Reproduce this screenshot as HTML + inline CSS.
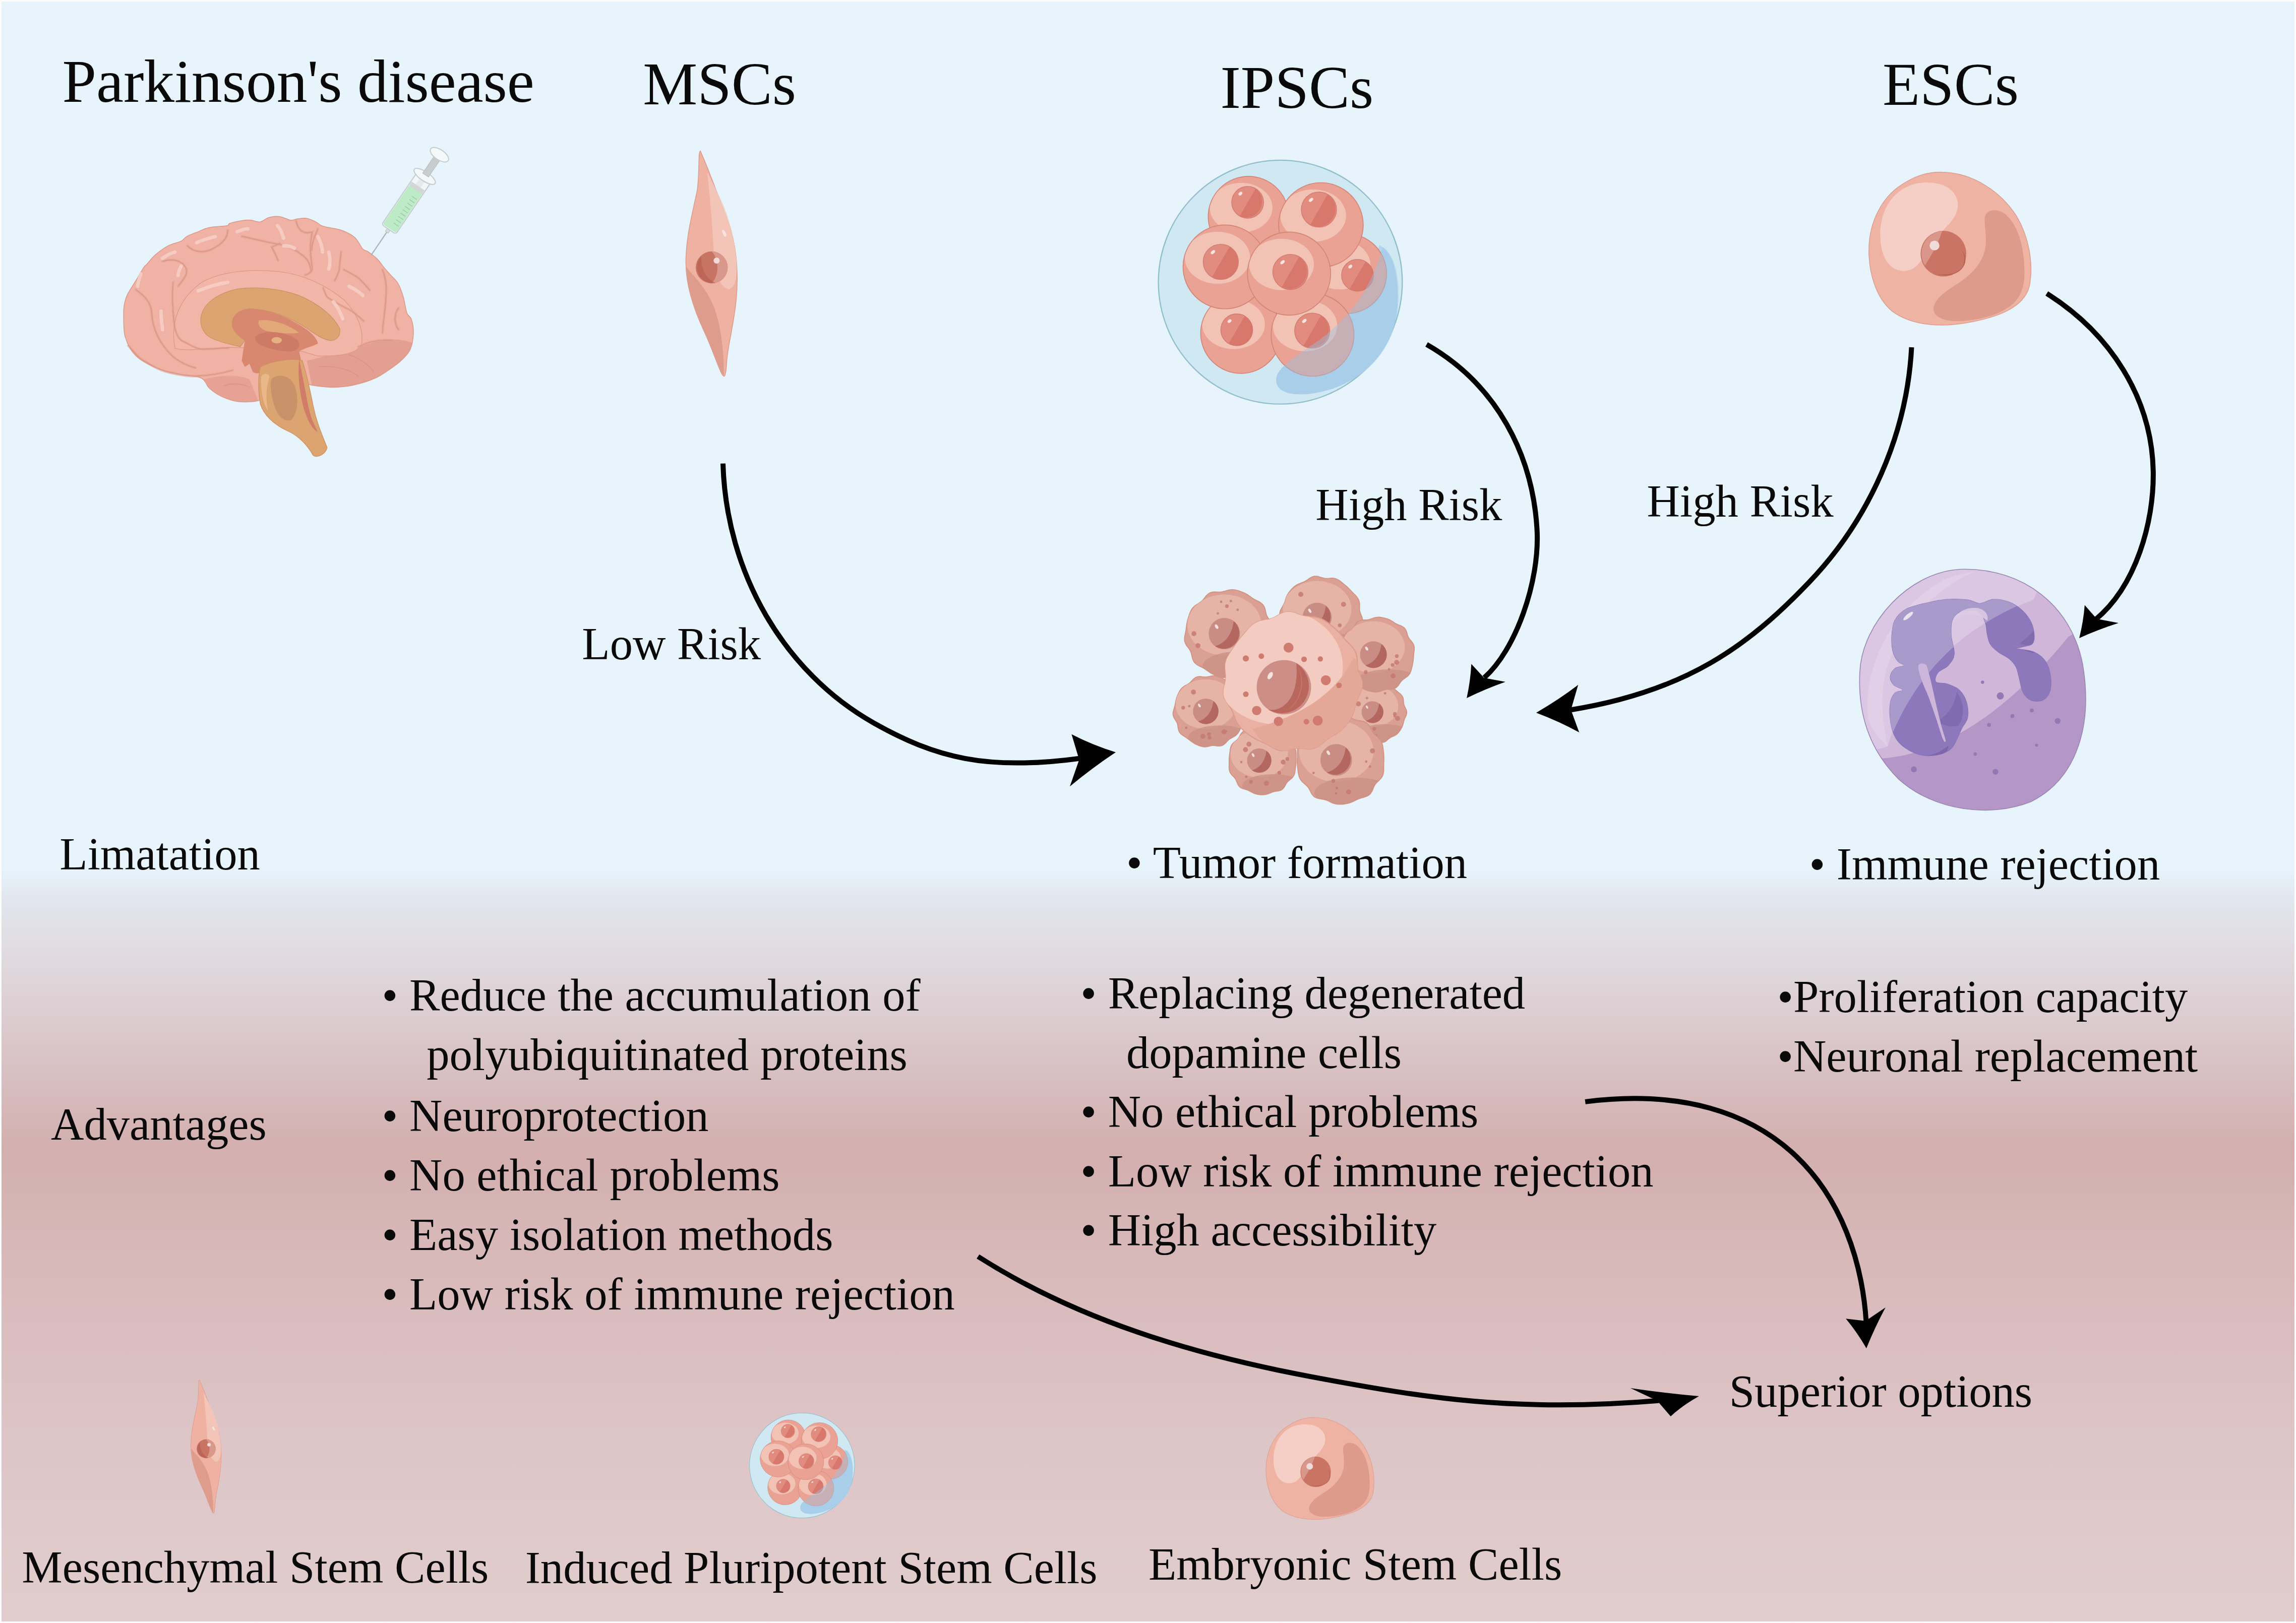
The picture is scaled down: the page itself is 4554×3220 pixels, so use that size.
<!DOCTYPE html>
<html><head><meta charset="utf-8">
<style>
html,body{margin:0;padding:0;width:4554px;height:3220px;overflow:hidden;background:#fff}
svg{display:block}
text{font-family:"Liberation Serif",serif;fill:#0a0a0a}
.t{font-size:121.5px}
.b{font-size:90.6px}
</style></head><body>
<svg width="4554" height="3220" viewBox="0 0 4554 3220">
<defs>
<linearGradient id="bg" x1="0" y1="0" x2="0" y2="1">
<stop offset="0" stop-color="#e7f4fc"/>
<stop offset="0.534" stop-color="#e7f4fc"/>
<stop offset="0.556" stop-color="#e2e5ed"/>
<stop offset="0.59" stop-color="#e0dadf"/>
<stop offset="0.625" stop-color="#dccdd1"/>
<stop offset="0.668" stop-color="#d7bdbf"/>
<stop offset="0.708" stop-color="#d3afae"/>
<stop offset="0.78" stop-color="#d8b9ba"/>
<stop offset="0.9" stop-color="#dec6c8"/>
<stop offset="1" stop-color="#e1cdcd"/>
</linearGradient>
</defs>
<rect x="0" y="0" width="4554" height="3220" fill="#fdfdfd"/>
<rect x="3" y="3" width="4548" height="3214" fill="url(#bg)"/>

<g transform="translate(230 420) scale(0.30801)">
<clipPath id="brC"><path d="M918.3,1216.6 C882.7,1225.5 825.9,1227.6 786.3,1223.2 C746.7,1218.8 711.4,1204.5 680.6,1190.2 C649.8,1175.9 623.4,1157.1 601.4,1137.3 C579.4,1117.5 581.6,1086.7 548.6,1071.3 C515.6,1055.9 451.7,1055.9 403.3,1044.9 C354.9,1033.9 304.2,1025.1 258.0,1005.3 C211.8,985.5 159.0,959.0 126.0,926.0 C93.0,893.0 72.7,851.2 59.9,807.2 C47.1,763.2 50.4,696.9 49.4,661.9 C48.4,626.9 50.2,618.2 54.0,597.5 C57.8,576.8 60.0,562.5 72.0,537.5 C84.0,512.5 108.0,477.5 126.0,447.5 C144.0,417.5 168.0,375.5 180.0,357.5 C192.0,339.5 186.0,352.5 198.0,339.5 C210.0,326.5 229.0,299.5 252.0,279.5 C275.0,259.5 308.0,234.5 336.0,219.5 C364.0,204.5 400.0,199.5 420.0,189.5 C440.0,179.5 438.0,169.5 456.0,159.5 C474.0,149.5 504.0,139.0 528.0,129.5 C552.0,120.0 569.0,109.0 600.0,102.5 C631.0,96.0 692.0,95.0 714.0,90.5 C736.0,86.0 716.0,81.0 732.0,75.5 C748.0,70.0 787.0,61.0 810.0,57.5 C833.0,54.0 850.1,53.1 869.7,54.5 C889.3,55.9 908.4,69.0 927.7,66.1 C947.0,63.2 964.4,42.9 985.7,37.1 C1007.0,31.3 1032.1,28.4 1055.3,31.3 C1078.5,34.2 1105.6,52.1 1124.9,54.5 C1144.2,56.9 1153.9,47.7 1171.3,45.8 C1188.7,43.9 1210.0,39.5 1229.3,42.9 C1248.6,46.3 1271.8,58.4 1287.3,66.1 C1302.8,73.8 1309.5,83.5 1322.1,89.3 C1334.7,95.1 1341.4,96.1 1362.7,100.9 C1384.0,105.7 1420.7,107.7 1449.7,118.3 C1478.7,128.9 1513.5,144.5 1536.7,164.7 C1559.9,184.9 1574.4,223.8 1588.9,239.3 C1603.4,254.8 1608.2,246.7 1623.7,257.5 C1639.2,268.3 1664.3,286.5 1681.7,303.9 C1699.1,321.3 1713.6,344.5 1728.1,361.9 C1742.6,379.3 1754.2,391.9 1768.7,408.3 C1783.2,424.7 1801.6,437.3 1815.1,460.5 C1828.6,483.7 1840.2,515.6 1849.9,547.5 C1859.6,579.4 1864.4,627.7 1873.1,651.9 C1881.8,676.1 1895.0,671.0 1902.1,692.5 C1909.1,714.0 1916.5,748.5 1915.4,780.8 C1914.3,813.1 1907.7,857.8 1895.6,886.4 C1883.5,915.0 1862.6,932.7 1842.8,952.5 C1823.0,972.3 1805.3,985.5 1776.7,1005.3 C1748.1,1025.1 1712.8,1052.6 1671.0,1071.3 C1629.2,1090.0 1572.0,1107.6 1525.8,1117.5 C1479.6,1127.4 1437.7,1130.7 1393.7,1130.7 C1349.7,1130.7 1302.2,1124.3 1261.6,1117.5 C1221.0,1110.7 1193.6,1081.2 1150.0,1090.0 C1106.4,1098.8 1038.6,1148.9 1000.0,1170.0 C961.4,1191.1 953.9,1207.7 918.3,1216.6Z"/></clipPath><path d="M918.3,1216.6 C882.7,1225.5 825.9,1227.6 786.3,1223.2 C746.7,1218.8 711.4,1204.5 680.6,1190.2 C649.8,1175.9 623.4,1157.1 601.4,1137.3 C579.4,1117.5 581.6,1086.7 548.6,1071.3 C515.6,1055.9 451.7,1055.9 403.3,1044.9 C354.9,1033.9 304.2,1025.1 258.0,1005.3 C211.8,985.5 159.0,959.0 126.0,926.0 C93.0,893.0 72.7,851.2 59.9,807.2 C47.1,763.2 50.4,696.9 49.4,661.9 C48.4,626.9 50.2,618.2 54.0,597.5 C57.8,576.8 60.0,562.5 72.0,537.5 C84.0,512.5 108.0,477.5 126.0,447.5 C144.0,417.5 168.0,375.5 180.0,357.5 C192.0,339.5 186.0,352.5 198.0,339.5 C210.0,326.5 229.0,299.5 252.0,279.5 C275.0,259.5 308.0,234.5 336.0,219.5 C364.0,204.5 400.0,199.5 420.0,189.5 C440.0,179.5 438.0,169.5 456.0,159.5 C474.0,149.5 504.0,139.0 528.0,129.5 C552.0,120.0 569.0,109.0 600.0,102.5 C631.0,96.0 692.0,95.0 714.0,90.5 C736.0,86.0 716.0,81.0 732.0,75.5 C748.0,70.0 787.0,61.0 810.0,57.5 C833.0,54.0 850.1,53.1 869.7,54.5 C889.3,55.9 908.4,69.0 927.7,66.1 C947.0,63.2 964.4,42.9 985.7,37.1 C1007.0,31.3 1032.1,28.4 1055.3,31.3 C1078.5,34.2 1105.6,52.1 1124.9,54.5 C1144.2,56.9 1153.9,47.7 1171.3,45.8 C1188.7,43.9 1210.0,39.5 1229.3,42.9 C1248.6,46.3 1271.8,58.4 1287.3,66.1 C1302.8,73.8 1309.5,83.5 1322.1,89.3 C1334.7,95.1 1341.4,96.1 1362.7,100.9 C1384.0,105.7 1420.7,107.7 1449.7,118.3 C1478.7,128.9 1513.5,144.5 1536.7,164.7 C1559.9,184.9 1574.4,223.8 1588.9,239.3 C1603.4,254.8 1608.2,246.7 1623.7,257.5 C1639.2,268.3 1664.3,286.5 1681.7,303.9 C1699.1,321.3 1713.6,344.5 1728.1,361.9 C1742.6,379.3 1754.2,391.9 1768.7,408.3 C1783.2,424.7 1801.6,437.3 1815.1,460.5 C1828.6,483.7 1840.2,515.6 1849.9,547.5 C1859.6,579.4 1864.4,627.7 1873.1,651.9 C1881.8,676.1 1895.0,671.0 1902.1,692.5 C1909.1,714.0 1916.5,748.5 1915.4,780.8 C1914.3,813.1 1907.7,857.8 1895.6,886.4 C1883.5,915.0 1862.6,932.7 1842.8,952.5 C1823.0,972.3 1805.3,985.5 1776.7,1005.3 C1748.1,1025.1 1712.8,1052.6 1671.0,1071.3 C1629.2,1090.0 1572.0,1107.6 1525.8,1117.5 C1479.6,1127.4 1437.7,1130.7 1393.7,1130.7 C1349.7,1130.7 1302.2,1124.3 1261.6,1117.5 C1221.0,1110.7 1193.6,1081.2 1150.0,1090.0 C1106.4,1098.8 1038.6,1148.9 1000.0,1170.0 C961.4,1191.1 953.9,1207.7 918.3,1216.6Z" fill="#f0b2a4"/><g clip-path="url(#brC)"><path d="M1230,960 C1400,920 1560,870 1700,830 C1800,810 1880,830 1950,860 L1950,1300 L1300,1300 C1260,1100 1240,1020 1230,960 Z" fill="#e39f91"/><path d="M560,1080 C650,1060 760,1040 860,1080 L950,1300 L500,1300 L540,1150 Z" fill="#e6a294"/></g><path d="M918.3,1216.6 C882.7,1225.5 825.9,1227.6 786.3,1223.2 C746.7,1218.8 711.4,1204.5 680.6,1190.2 C649.8,1175.9 623.4,1157.1 601.4,1137.3 C579.4,1117.5 581.6,1086.7 548.6,1071.3 C515.6,1055.9 451.7,1055.9 403.3,1044.9 C354.9,1033.9 304.2,1025.1 258.0,1005.3 C211.8,985.5 159.0,959.0 126.0,926.0 C93.0,893.0 72.7,851.2 59.9,807.2 C47.1,763.2 50.4,696.9 49.4,661.9 C48.4,626.9 50.2,618.2 54.0,597.5 C57.8,576.8 60.0,562.5 72.0,537.5 C84.0,512.5 108.0,477.5 126.0,447.5 C144.0,417.5 168.0,375.5 180.0,357.5 C192.0,339.5 186.0,352.5 198.0,339.5 C210.0,326.5 229.0,299.5 252.0,279.5 C275.0,259.5 308.0,234.5 336.0,219.5 C364.0,204.5 400.0,199.5 420.0,189.5 C440.0,179.5 438.0,169.5 456.0,159.5 C474.0,149.5 504.0,139.0 528.0,129.5 C552.0,120.0 569.0,109.0 600.0,102.5 C631.0,96.0 692.0,95.0 714.0,90.5 C736.0,86.0 716.0,81.0 732.0,75.5 C748.0,70.0 787.0,61.0 810.0,57.5 C833.0,54.0 850.1,53.1 869.7,54.5 C889.3,55.9 908.4,69.0 927.7,66.1 C947.0,63.2 964.4,42.9 985.7,37.1 C1007.0,31.3 1032.1,28.4 1055.3,31.3 C1078.5,34.2 1105.6,52.1 1124.9,54.5 C1144.2,56.9 1153.9,47.7 1171.3,45.8 C1188.7,43.9 1210.0,39.5 1229.3,42.9 C1248.6,46.3 1271.8,58.4 1287.3,66.1 C1302.8,73.8 1309.5,83.5 1322.1,89.3 C1334.7,95.1 1341.4,96.1 1362.7,100.9 C1384.0,105.7 1420.7,107.7 1449.7,118.3 C1478.7,128.9 1513.5,144.5 1536.7,164.7 C1559.9,184.9 1574.4,223.8 1588.9,239.3 C1603.4,254.8 1608.2,246.7 1623.7,257.5 C1639.2,268.3 1664.3,286.5 1681.7,303.9 C1699.1,321.3 1713.6,344.5 1728.1,361.9 C1742.6,379.3 1754.2,391.9 1768.7,408.3 C1783.2,424.7 1801.6,437.3 1815.1,460.5 C1828.6,483.7 1840.2,515.6 1849.9,547.5 C1859.6,579.4 1864.4,627.7 1873.1,651.9 C1881.8,676.1 1895.0,671.0 1902.1,692.5 C1909.1,714.0 1916.5,748.5 1915.4,780.8 C1914.3,813.1 1907.7,857.8 1895.6,886.4 C1883.5,915.0 1862.6,932.7 1842.8,952.5 C1823.0,972.3 1805.3,985.5 1776.7,1005.3 C1748.1,1025.1 1712.8,1052.6 1671.0,1071.3 C1629.2,1090.0 1572.0,1107.6 1525.8,1117.5 C1479.6,1127.4 1437.7,1130.7 1393.7,1130.7 C1349.7,1130.7 1302.2,1124.3 1261.6,1117.5 C1221.0,1110.7 1193.6,1081.2 1150.0,1090.0 C1106.4,1098.8 1038.6,1148.9 1000.0,1170.0 C961.4,1191.1 953.9,1207.7 918.3,1216.6Z" fill="none" stroke="#dc9888" stroke-width="5"/>


<path d="M380,880 C350,720 400,560 560,450 C700,380 880,370 1040,385 C1200,400 1350,470 1470,570 C1550,650 1600,760 1580,860 C1540,920 1440,930 1300,930 L1200,900 C1000,900 800,860 640,880 C540,880 460,900 380,880 Z" fill="#f2b6a8" stroke="#db9686" stroke-width="4"/>
<path d="M545,700 C550,600 640,530 780,498 C900,480 1060,495 1180,540 C1300,590 1400,670 1440,750 C1450,800 1420,830 1380,830 C1320,820 1270,780 1220,745 C1120,680 990,630 860,625 C790,630 750,670 748,720 C748,770 790,800 830,830 L800,870 C720,850 620,830 580,790 C555,760 545,730 545,700 Z" fill="#dca470" stroke="#cf9060" stroke-width="4"/>
<path d="M748,720 C752,660 800,628 870,625 C1000,630 1130,690 1230,760 C1280,800 1300,830 1300,850 C1260,870 1210,880 1180,900 L1200,1000 C1150,1000 1100,990 1060,1000 L980,1020 C940,1040 900,1050 880,1030 L860,980 L830,1000 L810,960 L830,830 C790,800 750,770 748,720 Z" fill="#d98870"/>
<path d="M920,700 C1000,690 1100,720 1180,780 C1120,790 1040,780 980,770 C930,760 910,730 920,700 Z" fill="#e2a878"/>
<path d="M900,800 C960,760 1080,770 1160,820 C1200,850 1180,900 1120,900 C1050,900 980,880 930,860 C900,840 890,820 900,800 Z" fill="#cd7a66"/>
<ellipse cx="1035" cy="828" rx="34" ry="20" fill="#e6b080"/>
<path d="M930,1000 C1000,960 1150,940 1200,960 C1230,1050 1250,1150 1270,1250 C1290,1350 1320,1420 1360,1520 C1350,1560 1300,1590 1270,1570 C1230,1500 1170,1440 1100,1410 C1000,1360 950,1300 930,1240 C915,1160 915,1060 930,1000 Z" fill="#dca470" stroke="#cf9060" stroke-width="4"/>
<path d="M1000,1080 C1040,1040 1120,1050 1150,1120 C1180,1200 1170,1300 1130,1340 C1090,1360 1040,1320 1020,1250 C1000,1180 990,1120 1000,1080 Z" fill="#c99268"/>
<path d="M1180,950 C1200,1050 1220,1160 1240,1260 C1255,1330 1280,1380 1300,1420 C1260,1400 1220,1320 1200,1230 C1180,1140 1170,1040 1180,950 Z" fill="#d07c68"/>
<path d="M935,1060 C950,1040 980,1040 990,1060 C970,1120 960,1200 980,1280 C950,1250 930,1150 935,1060 Z" fill="#e8b888"/>
<g fill="none" stroke="#e39f91" stroke-width="16" stroke-linecap="round" opacity="0.55"><path d="M128,502 C180,540 225,580 230,650 C235,760 280,850 368,935 C420,975 470,995 512,1006"/>
<path d="M368,455 C362,520 360,600 378,742 C390,800 410,830 440,838 C480,860 520,885 560,886 C620,885 680,880 728,877"/>
<path d="M80,862 C120,910 150,945 176,958 C230,990 270,1015 320,1030 C400,1050 460,1060 512,1059 C600,1055 690,1040 752,1021"/>
<path d="M300,320 C360,300 420,310 450,360 C470,400 430,440 400,480"/>
<path d="M460,220 C500,260 560,270 620,240 C680,210 720,170 720,120"/>
<path d="M811,159 C870,170 927,188 1055,211 C1120,225 1160,246 1200,280 C1240,310 1250,340 1258,385"/>
<path d="M1055,205 C1030,215 1010,225 1003,228 C1020,260 1035,290 1044,315"/>
<path d="M1160,60 C1170,110 1200,150 1264,130 C1255,180 1250,220 1252,257 C1255,300 1262,340 1264,373 C1250,395 1235,405 1218,408"/>
<path d="M1300,110 C1280,160 1260,200 1260,250"/>
<path d="M1450,257 C1445,300 1440,340 1438,373 C1430,400 1420,425 1409,443"/>
<path d="M1467,373 C1500,390 1540,410 1566,431 C1590,455 1615,480 1635,507"/>
<path d="M1716,373 C1730,410 1740,450 1740,490 C1740,560 1735,610 1728,663 C1722,710 1718,745 1716,780"/>
<path d="M1334,490 C1340,510 1350,530 1357,547 C1400,580 1460,610 1508,634 C1540,655 1570,680 1595,704"/>
<path d="M1820,620 C1790,660 1790,720 1820,760"/>
<path d="M1560,870 C1620,840 1700,820 1780,830"/>
<path d="M1300,1000 C1400,990 1500,1010 1560,1060"/>
<path d="M1500,920 C1560,940 1620,980 1660,1030"/>
<path d="M700,1120 C760,1100 820,1110 860,1130"/></g>
<g fill="none" stroke="#d89282" stroke-width="4" stroke-linecap="round"><path d="M128,502 C180,540 225,580 230,650 C235,760 280,850 368,935 C420,975 470,995 512,1006"/>
<path d="M368,455 C362,520 360,600 378,742 C390,800 410,830 440,838 C480,860 520,885 560,886 C620,885 680,880 728,877"/>
<path d="M80,862 C120,910 150,945 176,958 C230,990 270,1015 320,1030 C400,1050 460,1060 512,1059 C600,1055 690,1040 752,1021"/>
<path d="M300,320 C360,300 420,310 450,360 C470,400 430,440 400,480"/>
<path d="M460,220 C500,260 560,270 620,240 C680,210 720,170 720,120"/>
<path d="M811,159 C870,170 927,188 1055,211 C1120,225 1160,246 1200,280 C1240,310 1250,340 1258,385"/>
<path d="M1055,205 C1030,215 1010,225 1003,228 C1020,260 1035,290 1044,315"/>
<path d="M1160,60 C1170,110 1200,150 1264,130 C1255,180 1250,220 1252,257 C1255,300 1262,340 1264,373 C1250,395 1235,405 1218,408"/>
<path d="M1300,110 C1280,160 1260,200 1260,250"/>
<path d="M1450,257 C1445,300 1440,340 1438,373 C1430,400 1420,425 1409,443"/>
<path d="M1467,373 C1500,390 1540,410 1566,431 C1590,455 1615,480 1635,507"/>
<path d="M1716,373 C1730,410 1740,450 1740,490 C1740,560 1735,610 1728,663 C1722,710 1718,745 1716,780"/>
<path d="M1334,490 C1340,510 1350,530 1357,547 C1400,580 1460,610 1508,634 C1540,655 1570,680 1595,704"/>
<path d="M1820,620 C1790,660 1790,720 1820,760"/>
<path d="M1560,870 C1620,840 1700,820 1780,830"/>
<path d="M1300,1000 C1400,990 1500,1010 1560,1060"/>
<path d="M1500,920 C1560,940 1620,980 1660,1030"/>
<path d="M700,1120 C760,1100 820,1110 860,1130"/></g>
<g stroke="#f7cfc6" stroke-width="22" stroke-linecap="round" fill="none" opacity="0.9">
<path d="M520,200 C560,180 600,170 640,160"/>
<path d="M780,130 C800,120 830,110 850,110"/>
<path d="M1040,90 C1060,110 1070,140 1080,170"/>
<path d="M1300,160 C1320,200 1330,230 1330,260"/>
<path d="M1370,260 C1380,300 1380,340 1370,370"/>
<path d="M300,300 C330,280 360,265 380,260"/>
<path d="M420,350 C410,370 400,390 400,410"/>
<path d="M160,400 C150,430 140,460 140,480"/>
<path d="M290,640 C290,680 295,720 300,760"/>
<path d="M530,510 C600,480 660,465 720,455"/>
<path d="M1080,220 C1110,220 1130,225 1150,235"/>
<path d="M1500,480 C1540,500 1570,520 1590,540"/>
<path d="M1400,580 C1430,620 1450,660 1460,690"/>
<path d="M1090,1080" />
</g>
</g>

<g transform="translate(771 455) rotate(34.2)">
<line x1="0" y1="0" x2="0" y2="62" stroke="#a9b3b7" stroke-width="2.2"/>
<rect x="-3.5" y="-2" width="7" height="9" fill="#d5dcde" stroke="#b9c2c4" stroke-width="1"/>
<rect x="-17" y="-124" width="34" height="124" rx="5" fill="#f1f6f6" stroke="#c3cbcc" stroke-width="2"/>
<rect x="-15.5" y="-96" width="31" height="94" rx="4" fill="#bdeac7"/>
<rect x="-15.5" y="-104" width="31" height="9" fill="#d3d6d6"/>
<g stroke="#9fcda9" stroke-width="1.6">
<line x1="1" y1="-16" x2="13" y2="-16"/><line x1="1" y1="-24" x2="13" y2="-24"/><line x1="1" y1="-32" x2="13" y2="-32"/><line x1="1" y1="-40" x2="13" y2="-40"/><line x1="1" y1="-48" x2="13" y2="-48"/><line x1="1" y1="-56" x2="13" y2="-56"/><line x1="1" y1="-64" x2="13" y2="-64"/><line x1="1" y1="-72" x2="13" y2="-72"/><line x1="1" y1="-80" x2="13" y2="-80"/>
</g>
<rect x="-6" y="-122" width="12" height="18" fill="#e6eaea"/>
<ellipse cx="0" cy="-127" rx="25" ry="9" fill="#f5f8f8" stroke="#c3cbcc" stroke-width="2"/>
<rect x="-7" y="-176" width="14" height="46" fill="#c9cccc" stroke="#b5babb" stroke-width="1"/>
<ellipse cx="0" cy="-179" rx="21" ry="10" fill="#f5f8f8" stroke="#c3cbcc" stroke-width="2"/>
</g>

<g transform="translate(1300.00 280.00) scale(0.30189)">
<path d="M295,65 C340,160 420,380 480,540 C540,700 545,900 530,1050 C515,1200 480,1330 470,1430 C465,1500 462,1545 450,1545 C430,1545 390,1400 320,1250 C250,1100 200,950 200,800 C200,620 250,450 275,320 C290,220 280,65 295,65 Z" fill="#eeb1a2" stroke="#dc9c8c" stroke-width="5"/>
<path d="M205,830 C260,900 330,960 380,1080 C430,1200 450,1380 450,1540 C430,1530 390,1400 320,1250 C250,1100 205,950 205,830 Z" fill="#de9c8c"/>
<path d="M340,200 C360,380 375,560 385,760 C392,880 420,950 480,975 C525,960 538,900 534,800 C525,660 490,530 450,430 C410,330 360,250 340,200 Z" fill="#f4cbbf" opacity="0.8"/>
<circle cx="370" cy="830" r="105" fill="#c87464"/>
<path d="M370,725 A105,105 0 0 1 370,935 C420,880 420,780 370,725 Z" fill="#d9988c"/>
<path d="M300,760 A105,105 0 0 0 395,933 C330,900 300,840 300,760 Z" fill="#b86050" opacity="0.7"/>
<circle cx="402" cy="785" r="20" fill="#f3dcd8"/>
<ellipse cx="452" cy="605" rx="10" ry="26" transform="rotate(-25 452 605)" fill="#fae2dc"/>
</g>
<g transform="translate(342.80 2726.00) scale(0.17866)">
<path d="M295,65 C340,160 420,380 480,540 C540,700 545,900 530,1050 C515,1200 480,1330 470,1430 C465,1500 462,1545 450,1545 C430,1545 390,1400 320,1250 C250,1100 200,950 200,800 C200,620 250,450 275,320 C290,220 280,65 295,65 Z" fill="#eeb1a2" stroke="#dc9c8c" stroke-width="5"/>
<path d="M205,830 C260,900 330,960 380,1080 C430,1200 450,1380 450,1540 C430,1530 390,1400 320,1250 C250,1100 205,950 205,830 Z" fill="#de9c8c"/>
<path d="M340,200 C360,380 375,560 385,760 C392,880 420,950 480,975 C525,960 538,900 534,800 C525,660 490,530 450,430 C410,330 360,250 340,200 Z" fill="#f4cbbf" opacity="0.8"/>
<circle cx="370" cy="830" r="105" fill="#c87464"/>
<path d="M370,725 A105,105 0 0 1 370,935 C420,880 420,780 370,725 Z" fill="#d9988c"/>
<path d="M300,760 A105,105 0 0 0 395,933 C330,900 300,840 300,760 Z" fill="#b86050" opacity="0.7"/>
<circle cx="402" cy="785" r="20" fill="#f3dcd8"/>
<ellipse cx="452" cy="605" rx="10" ry="26" transform="rotate(-25 452 605)" fill="#fae2dc"/>
</g>
<g transform="translate(2270.00 290.00) scale(0.33271)"><circle cx="810" cy="811" r="727" fill="#d0e8f2" stroke="#8fbfcb" stroke-width="7"/><path d="M1400,590 C1500,640 1520,820 1505,980 C1480,1220 1300,1430 1000,1475 C880,1490 790,1470 785,1400 C780,1320 900,1260 1050,1150 C1250,1000 1350,800 1400,590 Z" fill="#b3d6ee"/><clipPath id="ipA_c0"><circle cx="620" cy="420" r="240"/></clipPath><circle cx="620" cy="420" r="240" fill="#e9a293"/><g clip-path="url(#ipA_c0)"><ellipse cx="576" cy="367" rx="187" ry="148" fill="#f2c2b5"/><path d="M620,420 C620,420 620,420 620,420" fill="none"/></g><circle cx="620" cy="420" r="240" fill="none" stroke="#d48474" stroke-width="5"/><circle cx="615" cy="335" r="95" fill="#e28c80" stroke="#d07a6e" stroke-width="4"/><path d="M662,253 A95,95 0 0 1 568,417 Z" fill="#d8786c"/><ellipse cx="572" cy="283" rx="13" ry="9" fill="#fbe3de" transform="rotate(-40 572 283)"/><clipPath id="ipA_c1"><circle cx="1205" cy="760" r="238"/></clipPath><circle cx="1205" cy="760" r="238" fill="#e9a293"/><g clip-path="url(#ipA_c1)"><ellipse cx="1162" cy="707" rx="185" ry="147" fill="#f2c2b5"/><path d="M1205,760 C1205,760 1205,760 1205,760" fill="none"/></g><circle cx="1205" cy="760" r="238" fill="none" stroke="#d48474" stroke-width="5"/><circle cx="1270" cy="770" r="95" fill="#e28c80" stroke="#d07a6e" stroke-width="4"/><path d="M1318,688 A95,95 0 0 1 1222,852 Z" fill="#d8786c"/><ellipse cx="1227" cy="718" rx="13" ry="9" fill="#fbe3de" transform="rotate(-40 1227 718)"/><clipPath id="ipA_c2"><circle cx="1052" cy="470" r="252"/></clipPath><circle cx="1052" cy="470" r="252" fill="#e9a293"/><g clip-path="url(#ipA_c2)"><ellipse cx="1006" cy="414" rx="196" ry="156" fill="#f2c2b5"/><path d="M1052,470 C1052,470 1052,470 1052,470" fill="none"/></g><circle cx="1052" cy="470" r="252" fill="none" stroke="#d48474" stroke-width="5"/><circle cx="1040" cy="378" r="105" fill="#e28c80" stroke="#d07a6e" stroke-width="4"/><path d="M1092,287 A105,105 0 0 1 988,469 Z" fill="#d8786c"/><ellipse cx="993" cy="320" rx="15" ry="9" fill="#fbe3de" transform="rotate(-40 993 320)"/><clipPath id="ipA_c3"><circle cx="575" cy="1115" r="240"/></clipPath><circle cx="575" cy="1115" r="240" fill="#e9a293"/><g clip-path="url(#ipA_c3)"><ellipse cx="531" cy="1062" rx="187" ry="148" fill="#f2c2b5"/><path d="M575,1115 C575,1115 575,1115 575,1115" fill="none"/></g><circle cx="575" cy="1115" r="240" fill="none" stroke="#d48474" stroke-width="5"/><circle cx="550" cy="1095" r="95" fill="#e28c80" stroke="#d07a6e" stroke-width="4"/><path d="M598,1013 A95,95 0 0 1 502,1177 Z" fill="#d8786c"/><ellipse cx="507" cy="1043" rx="13" ry="9" fill="#fbe3de" transform="rotate(-40 507 1043)"/><clipPath id="ipA_c4"><circle cx="1002" cy="1125" r="247"/></clipPath><circle cx="1002" cy="1125" r="247" fill="#e9a293"/><g clip-path="url(#ipA_c4)"><ellipse cx="957" cy="1070" rx="192" ry="153" fill="#f2c2b5"/><path d="M1002,1125 C1002,1125 1002,1125 1002,1125" fill="none"/></g><circle cx="1002" cy="1125" r="247" fill="none" stroke="#d48474" stroke-width="5"/><circle cx="1000" cy="1100" r="105" fill="#e28c80" stroke="#d07a6e" stroke-width="4"/><path d="M1052,1009 A105,105 0 0 1 948,1191 Z" fill="#d8786c"/><ellipse cx="953" cy="1042" rx="15" ry="9" fill="#fbe3de" transform="rotate(-40 953 1042)"/><clipPath id="ipA_c5"><circle cx="480" cy="720" r="250"/></clipPath><circle cx="480" cy="720" r="250" fill="#e9a293"/><g clip-path="url(#ipA_c5)"><ellipse cx="435" cy="665" rx="195" ry="155" fill="#f2c2b5"/><path d="M480,720 C480,720 480,720 480,720" fill="none"/></g><circle cx="480" cy="720" r="250" fill="none" stroke="#d48474" stroke-width="5"/><circle cx="455" cy="690" r="105" fill="#e28c80" stroke="#d07a6e" stroke-width="4"/><path d="M508,599 A105,105 0 0 1 402,781 Z" fill="#d8786c"/><ellipse cx="408" cy="632" rx="15" ry="9" fill="#fbe3de" transform="rotate(-40 408 632)"/><clipPath id="ipA_c6"><circle cx="862" cy="760" r="248"/></clipPath><circle cx="862" cy="760" r="248" fill="#e9a293"/><g clip-path="url(#ipA_c6)"><ellipse cx="817" cy="705" rx="193" ry="153" fill="#f2c2b5"/><path d="M862,760 C862,760 862,760 862,760" fill="none"/></g><circle cx="862" cy="760" r="248" fill="none" stroke="#d48474" stroke-width="5"/><circle cx="870" cy="750" r="105" fill="#e28c80" stroke="#d07a6e" stroke-width="4"/><path d="M922,659 A105,105 0 0 1 818,841 Z" fill="#d8786c"/><ellipse cx="823" cy="692" rx="15" ry="9" fill="#fbe3de" transform="rotate(-40 823 692)"/><path d="M1420,600 C1510,660 1525,840 1508,990 C1480,1220 1300,1430 1000,1475 C880,1490 790,1470 785,1400 C780,1320 900,1260 1050,1150 C1250,1000 1360,820 1420,600 Z" fill="#98c4e4" opacity="0.42"/></g>
<g transform="translate(1474.70 2791.20) scale(0.14340)"><circle cx="810" cy="811" r="727" fill="#d0e8f2" stroke="#8fbfcb" stroke-width="7"/><path d="M1400,590 C1500,640 1520,820 1505,980 C1480,1220 1300,1430 1000,1475 C880,1490 790,1470 785,1400 C780,1320 900,1260 1050,1150 C1250,1000 1350,800 1400,590 Z" fill="#b3d6ee"/><clipPath id="ipB_c0"><circle cx="620" cy="420" r="240"/></clipPath><circle cx="620" cy="420" r="240" fill="#e9a293"/><g clip-path="url(#ipB_c0)"><ellipse cx="576" cy="367" rx="187" ry="148" fill="#f2c2b5"/><path d="M620,420 C620,420 620,420 620,420" fill="none"/></g><circle cx="620" cy="420" r="240" fill="none" stroke="#d48474" stroke-width="5"/><circle cx="615" cy="335" r="95" fill="#e28c80" stroke="#d07a6e" stroke-width="4"/><path d="M662,253 A95,95 0 0 1 568,417 Z" fill="#d8786c"/><ellipse cx="572" cy="283" rx="13" ry="9" fill="#fbe3de" transform="rotate(-40 572 283)"/><clipPath id="ipB_c1"><circle cx="1205" cy="760" r="238"/></clipPath><circle cx="1205" cy="760" r="238" fill="#e9a293"/><g clip-path="url(#ipB_c1)"><ellipse cx="1162" cy="707" rx="185" ry="147" fill="#f2c2b5"/><path d="M1205,760 C1205,760 1205,760 1205,760" fill="none"/></g><circle cx="1205" cy="760" r="238" fill="none" stroke="#d48474" stroke-width="5"/><circle cx="1270" cy="770" r="95" fill="#e28c80" stroke="#d07a6e" stroke-width="4"/><path d="M1318,688 A95,95 0 0 1 1222,852 Z" fill="#d8786c"/><ellipse cx="1227" cy="718" rx="13" ry="9" fill="#fbe3de" transform="rotate(-40 1227 718)"/><clipPath id="ipB_c2"><circle cx="1052" cy="470" r="252"/></clipPath><circle cx="1052" cy="470" r="252" fill="#e9a293"/><g clip-path="url(#ipB_c2)"><ellipse cx="1006" cy="414" rx="196" ry="156" fill="#f2c2b5"/><path d="M1052,470 C1052,470 1052,470 1052,470" fill="none"/></g><circle cx="1052" cy="470" r="252" fill="none" stroke="#d48474" stroke-width="5"/><circle cx="1040" cy="378" r="105" fill="#e28c80" stroke="#d07a6e" stroke-width="4"/><path d="M1092,287 A105,105 0 0 1 988,469 Z" fill="#d8786c"/><ellipse cx="993" cy="320" rx="15" ry="9" fill="#fbe3de" transform="rotate(-40 993 320)"/><clipPath id="ipB_c3"><circle cx="575" cy="1115" r="240"/></clipPath><circle cx="575" cy="1115" r="240" fill="#e9a293"/><g clip-path="url(#ipB_c3)"><ellipse cx="531" cy="1062" rx="187" ry="148" fill="#f2c2b5"/><path d="M575,1115 C575,1115 575,1115 575,1115" fill="none"/></g><circle cx="575" cy="1115" r="240" fill="none" stroke="#d48474" stroke-width="5"/><circle cx="550" cy="1095" r="95" fill="#e28c80" stroke="#d07a6e" stroke-width="4"/><path d="M598,1013 A95,95 0 0 1 502,1177 Z" fill="#d8786c"/><ellipse cx="507" cy="1043" rx="13" ry="9" fill="#fbe3de" transform="rotate(-40 507 1043)"/><clipPath id="ipB_c4"><circle cx="1002" cy="1125" r="247"/></clipPath><circle cx="1002" cy="1125" r="247" fill="#e9a293"/><g clip-path="url(#ipB_c4)"><ellipse cx="957" cy="1070" rx="192" ry="153" fill="#f2c2b5"/><path d="M1002,1125 C1002,1125 1002,1125 1002,1125" fill="none"/></g><circle cx="1002" cy="1125" r="247" fill="none" stroke="#d48474" stroke-width="5"/><circle cx="1000" cy="1100" r="105" fill="#e28c80" stroke="#d07a6e" stroke-width="4"/><path d="M1052,1009 A105,105 0 0 1 948,1191 Z" fill="#d8786c"/><ellipse cx="953" cy="1042" rx="15" ry="9" fill="#fbe3de" transform="rotate(-40 953 1042)"/><clipPath id="ipB_c5"><circle cx="480" cy="720" r="250"/></clipPath><circle cx="480" cy="720" r="250" fill="#e9a293"/><g clip-path="url(#ipB_c5)"><ellipse cx="435" cy="665" rx="195" ry="155" fill="#f2c2b5"/><path d="M480,720 C480,720 480,720 480,720" fill="none"/></g><circle cx="480" cy="720" r="250" fill="none" stroke="#d48474" stroke-width="5"/><circle cx="455" cy="690" r="105" fill="#e28c80" stroke="#d07a6e" stroke-width="4"/><path d="M508,599 A105,105 0 0 1 402,781 Z" fill="#d8786c"/><ellipse cx="408" cy="632" rx="15" ry="9" fill="#fbe3de" transform="rotate(-40 408 632)"/><clipPath id="ipB_c6"><circle cx="862" cy="760" r="248"/></clipPath><circle cx="862" cy="760" r="248" fill="#e9a293"/><g clip-path="url(#ipB_c6)"><ellipse cx="817" cy="705" rx="193" ry="153" fill="#f2c2b5"/><path d="M862,760 C862,760 862,760 862,760" fill="none"/></g><circle cx="862" cy="760" r="248" fill="none" stroke="#d48474" stroke-width="5"/><circle cx="870" cy="750" r="105" fill="#e28c80" stroke="#d07a6e" stroke-width="4"/><path d="M922,659 A105,105 0 0 1 818,841 Z" fill="#d8786c"/><ellipse cx="823" cy="692" rx="15" ry="9" fill="#fbe3de" transform="rotate(-40 823 692)"/><path d="M1420,600 C1510,660 1525,840 1508,990 C1480,1220 1300,1430 1000,1475 C880,1490 790,1470 785,1400 C780,1320 900,1260 1050,1150 C1250,1000 1360,820 1420,600 Z" fill="#98c4e4" opacity="0.42"/></g>
<g transform="translate(3680.00 320.00) scale(0.21566)">
<path d="M780,100 C1100,100 1350,300 1480,500 C1600,700 1640,950 1600,1150 C1550,1350 1300,1440 1000,1490 C750,1530 500,1500 340,1380 C180,1250 120,1000 125,800 C130,550 250,330 420,220 C540,140 650,100 780,100 Z" fill="#efb3a4" stroke="#dc9e90" stroke-width="7"/>
<path d="M230,700 C220,400 400,200 650,195 C850,190 960,300 940,430 C920,560 780,640 700,750 C630,850 600,980 480,1005 C330,1030 235,900 230,700 Z" fill="#f5cfc6"/>
<path d="M1190,520 C1200,440 1300,430 1370,480 C1500,580 1560,800 1555,1050 C1550,1250 1450,1350 1250,1420 C1050,1480 800,1500 730,1400 C680,1300 820,1200 950,1120 C1100,1020 1190,900 1200,760 C1205,650 1185,580 1190,520 Z" fill="#dc9b8b"/>
<circle cx="810" cy="850" r="210" fill="#c97464"/>
<path d="M800,640 A210,210 0 0 0 640,960 C700,860 760,760 800,640 Z" fill="#d9978b"/>
<path d="M980,820 C1030,900 1000,1000 900,1030 C820,1050 760,1040 740,1030 C820,1070 980,1050 1010,930 C1020,880 1000,840 980,820 Z" fill="#b35e50"/>
<circle cx="728" cy="775" r="45" fill="#f0dada"/>
</g>
<g transform="translate(2493.00 2797.80) scale(0.14385)">
<path d="M780,100 C1100,100 1350,300 1480,500 C1600,700 1640,950 1600,1150 C1550,1350 1300,1440 1000,1490 C750,1530 500,1500 340,1380 C180,1250 120,1000 125,800 C130,550 250,330 420,220 C540,140 650,100 780,100 Z" fill="#efb3a4" stroke="#dc9e90" stroke-width="7"/>
<path d="M230,700 C220,400 400,200 650,195 C850,190 960,300 940,430 C920,560 780,640 700,750 C630,850 600,980 480,1005 C330,1030 235,900 230,700 Z" fill="#f5cfc6"/>
<path d="M1190,520 C1200,440 1300,430 1370,480 C1500,580 1560,800 1555,1050 C1550,1250 1450,1350 1250,1420 C1050,1480 800,1500 730,1400 C680,1300 820,1200 950,1120 C1100,1020 1190,900 1200,760 C1205,650 1185,580 1190,520 Z" fill="#dc9b8b"/>
<circle cx="810" cy="850" r="210" fill="#c97464"/>
<path d="M800,640 A210,210 0 0 0 640,960 C700,860 760,760 800,640 Z" fill="#d9978b"/>
<path d="M980,820 C1030,900 1000,1000 900,1030 C820,1050 760,1040 740,1030 C820,1070 980,1050 1010,930 C1020,880 1000,840 980,820 Z" fill="#b35e50"/>
<circle cx="728" cy="775" r="45" fill="#f0dada"/>
</g>
<g transform="translate(2300 1120) scale(0.30814)"><clipPath id="tc0"><path d="M1303.1,340.0 C1305.3,347.6 1307.3,355.7 1307.1,363.4 C1306.8,371.1 1304.4,378.9 1301.6,386.1 C1298.7,393.4 1293.8,400.2 1290.0,407.0 C1286.2,413.8 1282.1,420.2 1279.0,427.0 C1275.9,433.8 1273.8,440.8 1271.3,447.9 C1268.9,454.9 1267.1,462.4 1264.3,469.5 C1261.5,476.5 1258.2,483.6 1254.4,490.1 C1250.6,496.7 1245.9,502.9 1241.2,508.8 C1236.5,514.8 1231.3,520.5 1225.9,525.9 C1220.6,531.3 1215.0,536.7 1208.8,541.2 C1202.7,545.8 1196.1,549.7 1189.2,553.1 C1182.4,556.5 1175.0,558.8 1167.9,561.6 C1160.9,564.4 1153.9,566.6 1147.2,569.9 C1140.5,573.2 1134.4,577.3 1127.9,581.5 C1121.4,585.7 1115.3,591.4 1108.4,595.2 C1101.5,598.9 1094.1,602.8 1086.6,604.3 C1079.1,605.7 1070.9,605.2 1063.1,604.0 C1055.3,602.7 1047.5,599.1 1040.0,596.9 C1032.5,594.7 1025.4,592.0 1018.0,590.9 C1010.7,589.9 1003.4,590.3 995.8,590.5 C988.2,590.7 980.2,592.4 972.4,592.3 C964.6,592.1 956.5,591.7 949.1,589.7 C941.8,587.6 934.7,583.9 928.1,580.0 C921.5,576.0 915.5,570.8 909.5,566.1 C903.4,561.3 897.7,556.4 891.9,551.6 C886.0,546.7 880.2,542.1 874.6,537.1 C869.0,532.2 863.5,527.0 858.3,521.7 C853.0,516.5 848.1,510.9 842.9,505.4 C837.7,499.9 832.4,494.6 827.2,489.0 C821.9,483.5 816.0,478.1 811.3,472.1 C806.5,466.0 801.7,459.6 798.6,452.6 C795.5,445.6 793.8,437.7 792.9,429.9 C791.9,422.2 793.0,413.9 792.9,406.2 C792.8,398.5 793.3,391.0 792.2,383.7 C791.0,376.4 788.5,369.5 785.9,362.2 C783.4,354.9 779.1,347.6 776.9,340.0 C774.7,332.4 772.7,324.3 772.9,316.6 C773.2,308.9 775.6,301.1 778.4,293.9 C781.3,286.6 786.2,279.8 790.0,273.0 C793.8,266.2 797.9,259.8 801.0,253.0 C804.1,246.2 806.2,239.2 808.7,232.1 C811.1,225.1 812.9,217.6 815.7,210.5 C818.5,203.5 821.8,196.4 825.6,189.9 C829.4,183.3 834.1,177.1 838.8,171.2 C843.5,165.2 848.7,159.5 854.1,154.1 C859.4,148.7 865.0,143.3 871.2,138.8 C877.3,134.2 883.9,130.3 890.8,126.9 C897.6,123.5 905.0,121.2 912.1,118.4 C919.1,115.6 926.1,113.4 932.8,110.1 C939.5,106.8 945.6,102.7 952.1,98.5 C958.6,94.3 964.7,88.6 971.6,84.8 C978.5,81.1 985.9,77.2 993.4,75.7 C1000.9,74.3 1009.1,74.8 1016.9,76.0 C1024.7,77.3 1032.5,80.9 1040.0,83.1 C1047.5,85.3 1054.6,88.0 1062.0,89.1 C1069.3,90.1 1076.6,89.7 1084.2,89.5 C1091.8,89.3 1099.8,87.6 1107.6,87.7 C1115.4,87.9 1123.5,88.3 1130.9,90.3 C1138.2,92.4 1145.3,96.1 1151.9,100.0 C1158.5,104.0 1164.5,109.2 1170.5,113.9 C1176.6,118.7 1182.3,123.6 1188.1,128.4 C1194.0,133.3 1199.8,137.9 1205.4,142.9 C1211.0,147.8 1216.5,153.0 1221.7,158.3 C1227.0,163.5 1231.9,169.1 1237.1,174.6 C1242.3,180.1 1247.6,185.4 1252.8,191.0 C1258.1,196.5 1264.0,201.9 1268.7,207.9 C1273.5,214.0 1278.3,220.4 1281.4,227.4 C1284.5,234.4 1286.2,242.3 1287.1,250.1 C1288.1,257.8 1287.0,266.1 1287.1,273.8 C1287.2,281.5 1286.7,289.0 1287.8,296.3 C1289.0,303.6 1291.5,310.5 1294.1,317.8 C1296.6,325.1 1300.9,332.4 1303.1,340.0Z"/></clipPath><path d="M1303.1,340.0 C1305.3,347.6 1307.3,355.7 1307.1,363.4 C1306.8,371.1 1304.4,378.9 1301.6,386.1 C1298.7,393.4 1293.8,400.2 1290.0,407.0 C1286.2,413.8 1282.1,420.2 1279.0,427.0 C1275.9,433.8 1273.8,440.8 1271.3,447.9 C1268.9,454.9 1267.1,462.4 1264.3,469.5 C1261.5,476.5 1258.2,483.6 1254.4,490.1 C1250.6,496.7 1245.9,502.9 1241.2,508.8 C1236.5,514.8 1231.3,520.5 1225.9,525.9 C1220.6,531.3 1215.0,536.7 1208.8,541.2 C1202.7,545.8 1196.1,549.7 1189.2,553.1 C1182.4,556.5 1175.0,558.8 1167.9,561.6 C1160.9,564.4 1153.9,566.6 1147.2,569.9 C1140.5,573.2 1134.4,577.3 1127.9,581.5 C1121.4,585.7 1115.3,591.4 1108.4,595.2 C1101.5,598.9 1094.1,602.8 1086.6,604.3 C1079.1,605.7 1070.9,605.2 1063.1,604.0 C1055.3,602.7 1047.5,599.1 1040.0,596.9 C1032.5,594.7 1025.4,592.0 1018.0,590.9 C1010.7,589.9 1003.4,590.3 995.8,590.5 C988.2,590.7 980.2,592.4 972.4,592.3 C964.6,592.1 956.5,591.7 949.1,589.7 C941.8,587.6 934.7,583.9 928.1,580.0 C921.5,576.0 915.5,570.8 909.5,566.1 C903.4,561.3 897.7,556.4 891.9,551.6 C886.0,546.7 880.2,542.1 874.6,537.1 C869.0,532.2 863.5,527.0 858.3,521.7 C853.0,516.5 848.1,510.9 842.9,505.4 C837.7,499.9 832.4,494.6 827.2,489.0 C821.9,483.5 816.0,478.1 811.3,472.1 C806.5,466.0 801.7,459.6 798.6,452.6 C795.5,445.6 793.8,437.7 792.9,429.9 C791.9,422.2 793.0,413.9 792.9,406.2 C792.8,398.5 793.3,391.0 792.2,383.7 C791.0,376.4 788.5,369.5 785.9,362.2 C783.4,354.9 779.1,347.6 776.9,340.0 C774.7,332.4 772.7,324.3 772.9,316.6 C773.2,308.9 775.6,301.1 778.4,293.9 C781.3,286.6 786.2,279.8 790.0,273.0 C793.8,266.2 797.9,259.8 801.0,253.0 C804.1,246.2 806.2,239.2 808.7,232.1 C811.1,225.1 812.9,217.6 815.7,210.5 C818.5,203.5 821.8,196.4 825.6,189.9 C829.4,183.3 834.1,177.1 838.8,171.2 C843.5,165.2 848.7,159.5 854.1,154.1 C859.4,148.7 865.0,143.3 871.2,138.8 C877.3,134.2 883.9,130.3 890.8,126.9 C897.6,123.5 905.0,121.2 912.1,118.4 C919.1,115.6 926.1,113.4 932.8,110.1 C939.5,106.8 945.6,102.7 952.1,98.5 C958.6,94.3 964.7,88.6 971.6,84.8 C978.5,81.1 985.9,77.2 993.4,75.7 C1000.9,74.3 1009.1,74.8 1016.9,76.0 C1024.7,77.3 1032.5,80.9 1040.0,83.1 C1047.5,85.3 1054.6,88.0 1062.0,89.1 C1069.3,90.1 1076.6,89.7 1084.2,89.5 C1091.8,89.3 1099.8,87.6 1107.6,87.7 C1115.4,87.9 1123.5,88.3 1130.9,90.3 C1138.2,92.4 1145.3,96.1 1151.9,100.0 C1158.5,104.0 1164.5,109.2 1170.5,113.9 C1176.6,118.7 1182.3,123.6 1188.1,128.4 C1194.0,133.3 1199.8,137.9 1205.4,142.9 C1211.0,147.8 1216.5,153.0 1221.7,158.3 C1227.0,163.5 1231.9,169.1 1237.1,174.6 C1242.3,180.1 1247.6,185.4 1252.8,191.0 C1258.1,196.5 1264.0,201.9 1268.7,207.9 C1273.5,214.0 1278.3,220.4 1281.4,227.4 C1284.5,234.4 1286.2,242.3 1287.1,250.1 C1288.1,257.8 1287.0,266.1 1287.1,273.8 C1287.2,281.5 1286.7,289.0 1287.8,296.3 C1289.0,303.6 1291.5,310.5 1294.1,317.8 C1296.6,325.1 1300.9,332.4 1303.1,340.0Z" fill="#d9a093" stroke="#d49282" stroke-width="6"/><g clip-path="url(#tc0)"><ellipse cx="1014" cy="288" rx="221" ry="182" fill="#e6b4a7"/><ellipse cx="1118" cy="535" rx="234" ry="91" fill="#cb9184" opacity="0.8"/><circle cx="1014" cy="340" r="94" fill="#c98d85"/><path d="M1070,265 A94,94 0 0 1 958,415 C1023,396 1061,340 1070,265 Z" fill="#b4675e"/><ellipse cx="967" cy="298" rx="8" ry="15" fill="#f6e0dc" transform="rotate(-30 967 298)"/><circle cx="1053" cy="512" r="12" fill="#c47a6e" opacity="0.85"/><circle cx="1184" cy="256" r="16" fill="#c47a6e" opacity="0.85"/><circle cx="1160" cy="392" r="12" fill="#c47a6e" opacity="0.85"/><circle cx="1031" cy="488" r="16" fill="#c47a6e" opacity="0.85"/><circle cx="848" cy="376" r="12" fill="#c47a6e" opacity="0.85"/><circle cx="883" cy="459" r="8" fill="#c47a6e" opacity="0.85"/><circle cx="909" cy="192" r="16" fill="#c47a6e" opacity="0.85"/><circle cx="939" cy="424" r="8" fill="#c47a6e" opacity="0.85"/><circle cx="1150" cy="512" r="8" fill="#c47a6e" opacity="0.85"/></g><clipPath id="tc1"><path d="M1590.9,950.0 C1591.2,955.8 1589.9,961.7 1588.3,967.3 C1586.7,973.0 1583.6,978.4 1581.3,983.7 C1579.1,989.1 1576.5,994.2 1574.7,999.5 C1572.8,1004.8 1571.6,1010.2 1570.2,1015.6 C1568.7,1021.0 1567.6,1026.6 1565.8,1032.0 C1564.0,1037.4 1561.9,1042.7 1559.5,1047.9 C1557.0,1053.0 1554.1,1057.9 1551.1,1062.8 C1548.0,1067.6 1544.8,1072.4 1541.3,1076.9 C1537.7,1081.4 1534.0,1085.9 1529.7,1089.7 C1525.4,1093.5 1520.6,1096.8 1515.6,1099.7 C1510.7,1102.6 1505.1,1104.6 1500.0,1107.1 C1494.9,1109.5 1489.7,1111.5 1484.9,1114.4 C1480.2,1117.3 1475.9,1120.9 1471.4,1124.5 C1466.9,1128.2 1462.7,1132.9 1457.8,1136.2 C1452.9,1139.6 1447.7,1142.9 1442.1,1144.5 C1436.6,1146.1 1430.4,1146.1 1424.5,1145.7 C1418.6,1145.3 1412.6,1143.1 1406.8,1142.0 C1401.0,1140.9 1395.6,1139.4 1390.0,1139.1 C1384.4,1138.8 1379.0,1139.6 1373.4,1140.2 C1367.7,1140.8 1361.8,1142.4 1356.0,1142.8 C1350.2,1143.1 1344.2,1143.1 1338.5,1142.0 C1332.9,1141.0 1327.4,1138.7 1322.2,1136.3 C1317.0,1133.9 1312.1,1130.7 1307.2,1127.6 C1302.3,1124.6 1297.5,1121.5 1292.9,1118.3 C1288.2,1115.1 1283.5,1111.9 1279.1,1108.4 C1274.7,1104.9 1270.4,1101.2 1266.2,1097.5 C1262.1,1093.8 1258.1,1089.8 1253.9,1086.1 C1249.7,1082.3 1245.4,1078.8 1241.0,1075.0 C1236.6,1071.3 1231.6,1067.9 1227.6,1063.7 C1223.5,1059.6 1219.4,1055.1 1216.6,1050.1 C1213.9,1045.0 1212.2,1039.2 1211.1,1033.4 C1209.9,1027.7 1210.3,1021.4 1209.8,1015.6 C1209.2,1009.8 1209.2,1004.2 1207.8,998.8 C1206.5,993.4 1204.0,988.5 1201.6,983.2 C1199.3,977.9 1195.6,972.7 1193.5,967.2 C1191.4,961.7 1189.4,955.8 1189.1,950.0 C1188.8,944.2 1190.1,938.3 1191.7,932.7 C1193.3,927.0 1196.4,921.6 1198.7,916.3 C1200.9,910.9 1203.5,905.8 1205.3,900.5 C1207.2,895.2 1208.4,889.8 1209.8,884.4 C1211.3,879.0 1212.4,873.4 1214.2,868.0 C1216.0,862.6 1218.1,857.3 1220.5,852.1 C1223.0,847.0 1225.9,842.1 1228.9,837.2 C1232.0,832.4 1235.2,827.6 1238.7,823.1 C1242.3,818.6 1246.0,814.1 1250.3,810.3 C1254.6,806.5 1259.4,803.2 1264.4,800.3 C1269.3,797.4 1274.9,795.4 1280.0,792.9 C1285.1,790.5 1290.3,788.5 1295.1,785.6 C1299.8,782.7 1304.1,779.1 1308.6,775.5 C1313.1,771.8 1317.3,767.1 1322.2,763.8 C1327.1,760.4 1332.3,757.1 1337.9,755.5 C1343.4,753.9 1349.6,753.9 1355.5,754.3 C1361.4,754.7 1367.4,756.9 1373.2,758.0 C1379.0,759.1 1384.4,760.6 1390.0,760.9 C1395.6,761.2 1401.0,760.4 1406.6,759.8 C1412.3,759.2 1418.2,757.6 1424.0,757.2 C1429.8,756.9 1435.8,756.9 1441.5,758.0 C1447.1,759.0 1452.6,761.3 1457.8,763.7 C1463.0,766.1 1467.9,769.3 1472.8,772.4 C1477.7,775.4 1482.5,778.5 1487.1,781.7 C1491.8,784.9 1496.5,788.1 1500.9,791.6 C1505.3,795.1 1509.6,798.8 1513.8,802.5 C1517.9,806.2 1521.9,810.2 1526.1,813.9 C1530.3,817.7 1534.6,821.2 1539.0,825.0 C1543.4,828.7 1548.4,832.1 1552.4,836.3 C1556.5,840.4 1560.6,844.9 1563.4,849.9 C1566.1,855.0 1567.8,860.8 1568.9,866.6 C1570.1,872.3 1569.7,878.6 1570.2,884.4 C1570.8,890.2 1570.8,895.8 1572.2,901.2 C1573.5,906.6 1576.0,911.5 1578.4,916.8 C1580.7,922.1 1584.4,927.3 1586.5,932.8 C1588.6,938.3 1590.6,944.2 1590.9,950.0Z"/></clipPath><path d="M1590.9,950.0 C1591.2,955.8 1589.9,961.7 1588.3,967.3 C1586.7,973.0 1583.6,978.4 1581.3,983.7 C1579.1,989.1 1576.5,994.2 1574.7,999.5 C1572.8,1004.8 1571.6,1010.2 1570.2,1015.6 C1568.7,1021.0 1567.6,1026.6 1565.8,1032.0 C1564.0,1037.4 1561.9,1042.7 1559.5,1047.9 C1557.0,1053.0 1554.1,1057.9 1551.1,1062.8 C1548.0,1067.6 1544.8,1072.4 1541.3,1076.9 C1537.7,1081.4 1534.0,1085.9 1529.7,1089.7 C1525.4,1093.5 1520.6,1096.8 1515.6,1099.7 C1510.7,1102.6 1505.1,1104.6 1500.0,1107.1 C1494.9,1109.5 1489.7,1111.5 1484.9,1114.4 C1480.2,1117.3 1475.9,1120.9 1471.4,1124.5 C1466.9,1128.2 1462.7,1132.9 1457.8,1136.2 C1452.9,1139.6 1447.7,1142.9 1442.1,1144.5 C1436.6,1146.1 1430.4,1146.1 1424.5,1145.7 C1418.6,1145.3 1412.6,1143.1 1406.8,1142.0 C1401.0,1140.9 1395.6,1139.4 1390.0,1139.1 C1384.4,1138.8 1379.0,1139.6 1373.4,1140.2 C1367.7,1140.8 1361.8,1142.4 1356.0,1142.8 C1350.2,1143.1 1344.2,1143.1 1338.5,1142.0 C1332.9,1141.0 1327.4,1138.7 1322.2,1136.3 C1317.0,1133.9 1312.1,1130.7 1307.2,1127.6 C1302.3,1124.6 1297.5,1121.5 1292.9,1118.3 C1288.2,1115.1 1283.5,1111.9 1279.1,1108.4 C1274.7,1104.9 1270.4,1101.2 1266.2,1097.5 C1262.1,1093.8 1258.1,1089.8 1253.9,1086.1 C1249.7,1082.3 1245.4,1078.8 1241.0,1075.0 C1236.6,1071.3 1231.6,1067.9 1227.6,1063.7 C1223.5,1059.6 1219.4,1055.1 1216.6,1050.1 C1213.9,1045.0 1212.2,1039.2 1211.1,1033.4 C1209.9,1027.7 1210.3,1021.4 1209.8,1015.6 C1209.2,1009.8 1209.2,1004.2 1207.8,998.8 C1206.5,993.4 1204.0,988.5 1201.6,983.2 C1199.3,977.9 1195.6,972.7 1193.5,967.2 C1191.4,961.7 1189.4,955.8 1189.1,950.0 C1188.8,944.2 1190.1,938.3 1191.7,932.7 C1193.3,927.0 1196.4,921.6 1198.7,916.3 C1200.9,910.9 1203.5,905.8 1205.3,900.5 C1207.2,895.2 1208.4,889.8 1209.8,884.4 C1211.3,879.0 1212.4,873.4 1214.2,868.0 C1216.0,862.6 1218.1,857.3 1220.5,852.1 C1223.0,847.0 1225.9,842.1 1228.9,837.2 C1232.0,832.4 1235.2,827.6 1238.7,823.1 C1242.3,818.6 1246.0,814.1 1250.3,810.3 C1254.6,806.5 1259.4,803.2 1264.4,800.3 C1269.3,797.4 1274.9,795.4 1280.0,792.9 C1285.1,790.5 1290.3,788.5 1295.1,785.6 C1299.8,782.7 1304.1,779.1 1308.6,775.5 C1313.1,771.8 1317.3,767.1 1322.2,763.8 C1327.1,760.4 1332.3,757.1 1337.9,755.5 C1343.4,753.9 1349.6,753.9 1355.5,754.3 C1361.4,754.7 1367.4,756.9 1373.2,758.0 C1379.0,759.1 1384.4,760.6 1390.0,760.9 C1395.6,761.2 1401.0,760.4 1406.6,759.8 C1412.3,759.2 1418.2,757.6 1424.0,757.2 C1429.8,756.9 1435.8,756.9 1441.5,758.0 C1447.1,759.0 1452.6,761.3 1457.8,763.7 C1463.0,766.1 1467.9,769.3 1472.8,772.4 C1477.7,775.4 1482.5,778.5 1487.1,781.7 C1491.8,784.9 1496.5,788.1 1500.9,791.6 C1505.3,795.1 1509.6,798.8 1513.8,802.5 C1517.9,806.2 1521.9,810.2 1526.1,813.9 C1530.3,817.7 1534.6,821.2 1539.0,825.0 C1543.4,828.7 1548.4,832.1 1552.4,836.3 C1556.5,840.4 1560.6,844.9 1563.4,849.9 C1566.1,855.0 1567.8,860.8 1568.9,866.6 C1570.1,872.3 1569.7,878.6 1570.2,884.4 C1570.8,890.2 1570.8,895.8 1572.2,901.2 C1573.5,906.6 1576.0,911.5 1578.4,916.8 C1580.7,922.1 1584.4,927.3 1586.5,932.8 C1588.6,938.3 1590.6,944.2 1590.9,950.0Z" fill="#d9a093" stroke="#d49282" stroke-width="6"/><g clip-path="url(#tc1)"><ellipse cx="1370" cy="911" rx="166" ry="136" fill="#e6b4a7"/><ellipse cx="1448" cy="1096" rx="176" ry="68" fill="#cb9184" opacity="0.8"/><circle cx="1370" cy="950" r="70" fill="#c98d85"/><path d="M1413,894 A70,70 0 0 1 1328,1006 C1378,992 1406,950 1413,894 Z" fill="#b4675e"/><ellipse cx="1335" cy="918" rx="6" ry="11" fill="#f6e0dc" transform="rotate(-30 1335 918)"/><circle cx="1280" cy="897" r="16" fill="#c47a6e" opacity="0.85"/><circle cx="1514" cy="962" r="12" fill="#c47a6e" opacity="0.85"/><circle cx="1451" cy="829" r="8" fill="#c47a6e" opacity="0.85"/><circle cx="1513" cy="977" r="8" fill="#c47a6e" opacity="0.85"/><circle cx="1390" cy="1103" r="12" fill="#c47a6e" opacity="0.85"/><circle cx="1532" cy="991" r="16" fill="#c47a6e" opacity="0.85"/><circle cx="1315" cy="1046" r="16" fill="#c47a6e" opacity="0.85"/><circle cx="1382" cy="1057" r="12" fill="#c47a6e" opacity="0.85"/><circle cx="1335" cy="860" r="8" fill="#c47a6e" opacity="0.85"/></g><clipPath id="tc2"><path d="M551.9,945.0 C550.6,951.7 547.8,958.3 546.0,964.8 C544.1,971.3 542.2,977.5 540.7,983.9 C539.2,990.3 538.4,996.7 537.1,1003.2 C535.8,1009.6 534.7,1016.2 533.0,1022.5 C531.3,1028.9 529.2,1035.2 526.8,1041.4 C524.5,1047.7 521.8,1053.8 518.9,1059.8 C516.0,1065.9 513.1,1072.1 509.6,1077.7 C506.0,1083.4 502.1,1089.1 497.4,1093.9 C492.7,1098.6 487.1,1102.7 481.5,1106.5 C475.8,1110.2 469.3,1112.8 463.6,1116.1 C457.9,1119.5 452.2,1122.5 447.1,1126.5 C442.0,1130.6 437.7,1135.6 432.9,1140.5 C428.1,1145.4 423.7,1151.5 418.3,1155.8 C412.9,1160.1 406.9,1164.1 400.5,1166.3 C394.2,1168.4 386.9,1168.7 379.9,1168.7 C373.0,1168.7 365.8,1166.8 359.0,1166.3 C352.2,1165.8 345.8,1165.1 339.3,1165.6 C332.8,1166.0 326.5,1167.8 320.0,1169.1 C313.5,1170.4 306.7,1172.6 300.0,1173.3 C293.3,1174.0 286.4,1174.2 279.7,1173.4 C273.1,1172.6 266.5,1170.5 260.2,1168.3 C253.8,1166.2 247.6,1163.3 241.6,1160.5 C235.5,1157.7 229.5,1154.7 223.7,1151.5 C217.9,1148.2 212.3,1144.8 206.8,1141.0 C201.4,1137.3 196.4,1133.0 191.2,1129.0 C186.0,1125.0 181.1,1120.7 175.7,1116.9 C170.4,1113.1 164.7,1109.7 159.0,1106.0 C153.4,1102.2 147.0,1098.9 141.8,1094.5 C136.6,1090.1 131.5,1085.2 128.0,1079.4 C124.5,1073.7 122.3,1066.8 120.6,1060.1 C118.8,1053.5 118.8,1046.0 117.5,1039.4 C116.2,1032.8 115.2,1026.5 112.8,1020.4 C110.4,1014.4 106.6,1009.0 103.2,1003.1 C99.8,997.2 95.0,991.4 92.2,985.2 C89.4,978.9 87.0,972.1 86.3,965.4 C85.6,958.8 86.8,951.7 88.1,945.0 C89.4,938.3 92.2,931.7 94.0,925.2 C95.9,918.7 97.8,912.5 99.3,906.1 C100.8,899.7 101.6,893.3 102.9,886.8 C104.2,880.4 105.3,873.8 107.0,867.5 C108.7,861.1 110.8,854.8 113.2,848.6 C115.5,842.3 118.2,836.2 121.1,830.2 C124.0,824.1 126.9,817.9 130.4,812.3 C134.0,806.6 137.9,800.9 142.6,796.1 C147.3,791.4 152.9,787.3 158.5,783.5 C164.2,779.8 170.7,777.2 176.4,773.9 C182.1,770.5 187.8,767.5 192.9,763.5 C198.0,759.4 202.3,754.4 207.1,749.5 C211.9,744.6 216.3,738.5 221.7,734.2 C227.1,729.9 233.1,725.9 239.5,723.7 C245.8,721.6 253.1,721.3 260.1,721.3 C267.0,721.3 274.2,723.2 281.0,723.7 C287.8,724.2 294.2,724.9 300.7,724.4 C307.2,724.0 313.5,722.2 320.0,720.9 C326.5,719.6 333.3,717.4 340.0,716.7 C346.7,716.0 353.6,715.8 360.3,716.6 C366.9,717.4 373.5,719.5 379.8,721.7 C386.2,723.8 392.4,726.7 398.4,729.5 C404.5,732.3 410.5,735.3 416.3,738.5 C422.1,741.8 427.7,745.2 433.2,749.0 C438.6,752.7 443.6,757.0 448.8,761.0 C454.0,765.0 458.9,769.3 464.3,773.1 C469.6,776.9 475.3,780.3 481.0,784.0 C486.6,787.8 493.0,791.1 498.2,795.5 C503.4,799.9 508.5,804.8 512.0,810.6 C515.5,816.3 517.7,823.2 519.4,829.9 C521.2,836.5 521.2,844.0 522.5,850.6 C523.8,857.2 524.8,863.5 527.2,869.6 C529.6,875.6 533.4,881.0 536.8,886.9 C540.2,892.8 545.0,898.6 547.8,904.8 C550.6,911.1 553.0,917.9 553.7,924.6 C554.4,931.2 553.2,938.3 551.9,945.0Z"/></clipPath><path d="M551.9,945.0 C550.6,951.7 547.8,958.3 546.0,964.8 C544.1,971.3 542.2,977.5 540.7,983.9 C539.2,990.3 538.4,996.7 537.1,1003.2 C535.8,1009.6 534.7,1016.2 533.0,1022.5 C531.3,1028.9 529.2,1035.2 526.8,1041.4 C524.5,1047.7 521.8,1053.8 518.9,1059.8 C516.0,1065.9 513.1,1072.1 509.6,1077.7 C506.0,1083.4 502.1,1089.1 497.4,1093.9 C492.7,1098.6 487.1,1102.7 481.5,1106.5 C475.8,1110.2 469.3,1112.8 463.6,1116.1 C457.9,1119.5 452.2,1122.5 447.1,1126.5 C442.0,1130.6 437.7,1135.6 432.9,1140.5 C428.1,1145.4 423.7,1151.5 418.3,1155.8 C412.9,1160.1 406.9,1164.1 400.5,1166.3 C394.2,1168.4 386.9,1168.7 379.9,1168.7 C373.0,1168.7 365.8,1166.8 359.0,1166.3 C352.2,1165.8 345.8,1165.1 339.3,1165.6 C332.8,1166.0 326.5,1167.8 320.0,1169.1 C313.5,1170.4 306.7,1172.6 300.0,1173.3 C293.3,1174.0 286.4,1174.2 279.7,1173.4 C273.1,1172.6 266.5,1170.5 260.2,1168.3 C253.8,1166.2 247.6,1163.3 241.6,1160.5 C235.5,1157.7 229.5,1154.7 223.7,1151.5 C217.9,1148.2 212.3,1144.8 206.8,1141.0 C201.4,1137.3 196.4,1133.0 191.2,1129.0 C186.0,1125.0 181.1,1120.7 175.7,1116.9 C170.4,1113.1 164.7,1109.7 159.0,1106.0 C153.4,1102.2 147.0,1098.9 141.8,1094.5 C136.6,1090.1 131.5,1085.2 128.0,1079.4 C124.5,1073.7 122.3,1066.8 120.6,1060.1 C118.8,1053.5 118.8,1046.0 117.5,1039.4 C116.2,1032.8 115.2,1026.5 112.8,1020.4 C110.4,1014.4 106.6,1009.0 103.2,1003.1 C99.8,997.2 95.0,991.4 92.2,985.2 C89.4,978.9 87.0,972.1 86.3,965.4 C85.6,958.8 86.8,951.7 88.1,945.0 C89.4,938.3 92.2,931.7 94.0,925.2 C95.9,918.7 97.8,912.5 99.3,906.1 C100.8,899.7 101.6,893.3 102.9,886.8 C104.2,880.4 105.3,873.8 107.0,867.5 C108.7,861.1 110.8,854.8 113.2,848.6 C115.5,842.3 118.2,836.2 121.1,830.2 C124.0,824.1 126.9,817.9 130.4,812.3 C134.0,806.6 137.9,800.9 142.6,796.1 C147.3,791.4 152.9,787.3 158.5,783.5 C164.2,779.8 170.7,777.2 176.4,773.9 C182.1,770.5 187.8,767.5 192.9,763.5 C198.0,759.4 202.3,754.4 207.1,749.5 C211.9,744.6 216.3,738.5 221.7,734.2 C227.1,729.9 233.1,725.9 239.5,723.7 C245.8,721.6 253.1,721.3 260.1,721.3 C267.0,721.3 274.2,723.2 281.0,723.7 C287.8,724.2 294.2,724.9 300.7,724.4 C307.2,724.0 313.5,722.2 320.0,720.9 C326.5,719.6 333.3,717.4 340.0,716.7 C346.7,716.0 353.6,715.8 360.3,716.6 C366.9,717.4 373.5,719.5 379.8,721.7 C386.2,723.8 392.4,726.7 398.4,729.5 C404.5,732.3 410.5,735.3 416.3,738.5 C422.1,741.8 427.7,745.2 433.2,749.0 C438.6,752.7 443.6,757.0 448.8,761.0 C454.0,765.0 458.9,769.3 464.3,773.1 C469.6,776.9 475.3,780.3 481.0,784.0 C486.6,787.8 493.0,791.1 498.2,795.5 C503.4,799.9 508.5,804.8 512.0,810.6 C515.5,816.3 517.7,823.2 519.4,829.9 C521.2,836.5 521.2,844.0 522.5,850.6 C523.8,857.2 524.8,863.5 527.2,869.6 C529.6,875.6 533.4,881.0 536.8,886.9 C540.2,892.8 545.0,898.6 547.8,904.8 C550.6,911.1 553.0,917.9 553.7,924.6 C554.4,931.2 553.2,938.3 551.9,945.0Z" fill="#d9a093" stroke="#d49282" stroke-width="6"/><g clip-path="url(#tc2)"><ellipse cx="297" cy="899" rx="194" ry="160" fill="#e6b4a7"/><ellipse cx="388" cy="1116" rx="205" ry="80" fill="#cb9184" opacity="0.8"/><circle cx="297" cy="945" r="82" fill="#c98d85"/><path d="M346,879 A82,82 0 0 1 248,1011 C305,994 338,945 346,879 Z" fill="#b4675e"/><ellipse cx="256" cy="908" rx="7" ry="13" fill="#f6e0dc" transform="rotate(-30 256 908)"/><circle cx="152" cy="922" r="12" fill="#c47a6e" opacity="0.85"/><circle cx="279" cy="1106" r="16" fill="#c47a6e" opacity="0.85"/><circle cx="191" cy="912" r="8" fill="#c47a6e" opacity="0.85"/><circle cx="321" cy="1115" r="12" fill="#c47a6e" opacity="0.85"/><circle cx="318" cy="1093" r="12" fill="#c47a6e" opacity="0.85"/><circle cx="218" cy="821" r="16" fill="#c47a6e" opacity="0.85"/><circle cx="171" cy="1051" r="8" fill="#c47a6e" opacity="0.85"/><circle cx="427" cy="1074" r="8" fill="#c47a6e" opacity="0.85"/><circle cx="415" cy="1077" r="16" fill="#c47a6e" opacity="0.85"/></g><clipPath id="tc3"><path d="M724.6,445.0 C723.0,453.2 721.2,461.1 720.0,469.1 C718.7,477.0 718.1,485.0 717.0,493.0 C715.9,500.9 714.9,509.0 713.3,516.9 C711.7,524.8 709.6,532.7 707.4,540.5 C705.2,548.4 702.7,556.1 700.0,563.9 C697.3,571.7 694.8,579.7 691.2,587.1 C687.6,594.6 683.8,602.1 678.7,608.6 C673.6,615.1 667.1,620.8 660.6,625.9 C654.0,631.0 646.1,634.8 639.3,639.3 C632.5,643.9 625.6,647.8 619.6,653.1 C613.6,658.4 608.8,664.8 603.4,671.2 C598.0,677.6 593.4,685.6 587.4,691.6 C581.3,697.6 574.7,703.5 567.2,707.1 C559.8,710.7 551.0,712.2 542.6,713.1 C534.2,714.0 525.1,712.6 516.7,712.6 C508.3,712.6 500.3,712.2 492.3,713.3 C484.3,714.3 476.8,716.7 468.9,718.7 C461.1,720.7 453.1,723.9 445.0,725.4 C436.9,727.0 428.5,728.0 420.3,727.9 C412.0,727.7 403.8,726.2 395.7,724.5 C387.7,722.8 379.7,720.2 372.0,717.6 C364.2,715.0 356.4,712.2 349.0,708.8 C341.5,705.4 334.2,701.7 327.3,697.5 C320.3,693.3 313.8,688.3 307.1,683.8 C300.5,679.2 294.3,674.3 287.4,670.1 C280.5,665.8 273.3,662.3 265.9,658.4 C258.6,654.5 250.3,651.3 243.3,646.7 C236.4,642.0 229.3,636.8 224.1,630.3 C219.0,623.9 215.4,615.8 212.5,607.8 C209.5,599.9 208.7,590.7 206.6,582.6 C204.4,574.6 202.9,566.7 199.6,559.4 C196.3,552.2 191.5,545.8 186.8,539.0 C182.2,532.1 175.9,525.6 171.7,518.2 C167.5,510.9 163.6,503.0 161.8,494.9 C159.9,486.9 160.2,478.2 160.8,469.9 C161.4,461.5 163.9,453.2 165.4,445.0 C167.0,436.8 168.8,428.9 170.0,420.9 C171.3,413.0 171.9,405.0 173.0,397.0 C174.1,389.1 175.1,381.0 176.7,373.1 C178.3,365.2 180.4,357.3 182.6,349.5 C184.8,341.6 187.3,333.9 190.0,326.1 C192.7,318.3 195.2,310.3 198.8,302.9 C202.4,295.4 206.2,287.9 211.3,281.4 C216.4,274.9 222.9,269.2 229.4,264.1 C236.0,259.0 243.9,255.2 250.7,250.7 C257.5,246.1 264.4,242.2 270.4,236.9 C276.4,231.6 281.2,225.2 286.6,218.8 C292.0,212.4 296.6,204.4 302.6,198.4 C308.7,192.4 315.3,186.5 322.8,182.9 C330.2,179.3 339.0,177.8 347.4,176.9 C355.8,176.0 364.9,177.4 373.3,177.4 C381.7,177.4 389.7,177.8 397.7,176.7 C405.7,175.7 413.2,173.3 421.1,171.3 C428.9,169.3 436.9,166.1 445.0,164.6 C453.1,163.0 461.5,162.0 469.7,162.1 C478.0,162.3 486.2,163.8 494.3,165.5 C502.3,167.2 510.3,169.8 518.0,172.4 C525.8,175.0 533.6,177.8 541.0,181.2 C548.5,184.6 555.8,188.3 562.7,192.5 C569.7,196.7 576.2,201.7 582.9,206.2 C589.5,210.8 595.7,215.7 602.6,219.9 C609.5,224.2 616.7,227.7 624.1,231.6 C631.4,235.5 639.7,238.7 646.7,243.3 C653.6,248.0 660.7,253.2 665.9,259.7 C671.0,266.1 674.6,274.2 677.5,282.2 C680.5,290.1 681.3,299.3 683.4,307.4 C685.6,315.4 687.1,323.3 690.4,330.6 C693.7,337.8 698.5,344.2 703.2,351.0 C707.8,357.9 714.1,364.4 718.3,371.8 C722.5,379.1 726.4,387.0 728.2,395.1 C730.1,403.1 729.8,411.8 729.2,420.1 C728.6,428.5 726.1,436.8 724.6,445.0Z"/></clipPath><path d="M724.6,445.0 C723.0,453.2 721.2,461.1 720.0,469.1 C718.7,477.0 718.1,485.0 717.0,493.0 C715.9,500.9 714.9,509.0 713.3,516.9 C711.7,524.8 709.6,532.7 707.4,540.5 C705.2,548.4 702.7,556.1 700.0,563.9 C697.3,571.7 694.8,579.7 691.2,587.1 C687.6,594.6 683.8,602.1 678.7,608.6 C673.6,615.1 667.1,620.8 660.6,625.9 C654.0,631.0 646.1,634.8 639.3,639.3 C632.5,643.9 625.6,647.8 619.6,653.1 C613.6,658.4 608.8,664.8 603.4,671.2 C598.0,677.6 593.4,685.6 587.4,691.6 C581.3,697.6 574.7,703.5 567.2,707.1 C559.8,710.7 551.0,712.2 542.6,713.1 C534.2,714.0 525.1,712.6 516.7,712.6 C508.3,712.6 500.3,712.2 492.3,713.3 C484.3,714.3 476.8,716.7 468.9,718.7 C461.1,720.7 453.1,723.9 445.0,725.4 C436.9,727.0 428.5,728.0 420.3,727.9 C412.0,727.7 403.8,726.2 395.7,724.5 C387.7,722.8 379.7,720.2 372.0,717.6 C364.2,715.0 356.4,712.2 349.0,708.8 C341.5,705.4 334.2,701.7 327.3,697.5 C320.3,693.3 313.8,688.3 307.1,683.8 C300.5,679.2 294.3,674.3 287.4,670.1 C280.5,665.8 273.3,662.3 265.9,658.4 C258.6,654.5 250.3,651.3 243.3,646.7 C236.4,642.0 229.3,636.8 224.1,630.3 C219.0,623.9 215.4,615.8 212.5,607.8 C209.5,599.9 208.7,590.7 206.6,582.6 C204.4,574.6 202.9,566.7 199.6,559.4 C196.3,552.2 191.5,545.8 186.8,539.0 C182.2,532.1 175.9,525.6 171.7,518.2 C167.5,510.9 163.6,503.0 161.8,494.9 C159.9,486.9 160.2,478.2 160.8,469.9 C161.4,461.5 163.9,453.2 165.4,445.0 C167.0,436.8 168.8,428.9 170.0,420.9 C171.3,413.0 171.9,405.0 173.0,397.0 C174.1,389.1 175.1,381.0 176.7,373.1 C178.3,365.2 180.4,357.3 182.6,349.5 C184.8,341.6 187.3,333.9 190.0,326.1 C192.7,318.3 195.2,310.3 198.8,302.9 C202.4,295.4 206.2,287.9 211.3,281.4 C216.4,274.9 222.9,269.2 229.4,264.1 C236.0,259.0 243.9,255.2 250.7,250.7 C257.5,246.1 264.4,242.2 270.4,236.9 C276.4,231.6 281.2,225.2 286.6,218.8 C292.0,212.4 296.6,204.4 302.6,198.4 C308.7,192.4 315.3,186.5 322.8,182.9 C330.2,179.3 339.0,177.8 347.4,176.9 C355.8,176.0 364.9,177.4 373.3,177.4 C381.7,177.4 389.7,177.8 397.7,176.7 C405.7,175.7 413.2,173.3 421.1,171.3 C428.9,169.3 436.9,166.1 445.0,164.6 C453.1,163.0 461.5,162.0 469.7,162.1 C478.0,162.3 486.2,163.8 494.3,165.5 C502.3,167.2 510.3,169.8 518.0,172.4 C525.8,175.0 533.6,177.8 541.0,181.2 C548.5,184.6 555.8,188.3 562.7,192.5 C569.7,196.7 576.2,201.7 582.9,206.2 C589.5,210.8 595.7,215.7 602.6,219.9 C609.5,224.2 616.7,227.7 624.1,231.6 C631.4,235.5 639.7,238.7 646.7,243.3 C653.6,248.0 660.7,253.2 665.9,259.7 C671.0,266.1 674.6,274.2 677.5,282.2 C680.5,290.1 681.3,299.3 683.4,307.4 C685.6,315.4 687.1,323.3 690.4,330.6 C693.7,337.8 698.5,344.2 703.2,351.0 C707.8,357.9 714.1,364.4 718.3,371.8 C722.5,379.1 726.4,387.0 728.2,395.1 C730.1,403.1 729.8,411.8 729.2,420.1 C728.6,428.5 726.1,436.8 724.6,445.0Z" fill="#d9a093" stroke="#d49282" stroke-width="6"/><g clip-path="url(#tc3)"><ellipse cx="417" cy="389" rx="238" ry="196" fill="#e6b4a7"/><ellipse cx="529" cy="655" rx="252" ry="98" fill="#cb9184" opacity="0.8"/><circle cx="417" cy="445" r="101" fill="#c98d85"/><path d="M477,364 A101,101 0 0 1 357,526 C427,505 467,445 477,364 Z" fill="#b4675e"/><ellipse cx="367" cy="400" rx="9" ry="16" fill="#f6e0dc" transform="rotate(-30 367 400)"/><circle cx="396" cy="240" r="8" fill="#c47a6e" opacity="0.85"/><circle cx="476" cy="596" r="8" fill="#c47a6e" opacity="0.85"/><circle cx="375" cy="315" r="8" fill="#c47a6e" opacity="0.85"/><circle cx="502" cy="291" r="8" fill="#c47a6e" opacity="0.85"/><circle cx="247" cy="522" r="16" fill="#c47a6e" opacity="0.85"/><circle cx="582" cy="567" r="12" fill="#c47a6e" opacity="0.85"/><circle cx="433" cy="268" r="12" fill="#c47a6e" opacity="0.85"/><circle cx="221" cy="445" r="16" fill="#c47a6e" opacity="0.85"/><circle cx="459" cy="235" r="8" fill="#c47a6e" opacity="0.85"/></g><clipPath id="tc4"><path d="M1635.5,580.0 C1634.9,586.9 1634.6,593.7 1634.0,600.5 C1633.4,607.3 1633.0,614.1 1632.0,620.9 C1631.1,627.7 1629.8,634.5 1628.5,641.2 C1627.1,648.0 1625.5,654.7 1623.9,661.5 C1622.2,668.3 1620.8,675.3 1618.6,681.9 C1616.3,688.6 1614.0,695.5 1610.5,701.5 C1606.9,707.5 1602.3,713.1 1597.2,718.1 C1592.1,723.0 1585.6,726.8 1579.9,731.0 C1574.3,735.2 1568.2,738.6 1563.2,743.2 C1558.2,747.8 1554.1,752.9 1549.8,758.5 C1545.6,764.1 1542.3,771.1 1537.8,776.8 C1533.3,782.5 1528.5,788.6 1522.7,792.6 C1516.9,796.6 1510.0,799.3 1503.0,801.0 C1496.1,802.7 1488.3,802.4 1481.1,803.0 C1474.0,803.5 1466.9,803.3 1460.1,804.3 C1453.3,805.4 1447.0,807.3 1440.4,809.3 C1433.9,811.3 1427.4,814.3 1420.7,816.1 C1413.9,818.0 1406.9,819.8 1400.0,820.5 C1393.1,821.1 1385.9,820.8 1379.0,820.2 C1372.0,819.6 1365.1,818.2 1358.3,816.7 C1351.4,815.2 1344.6,813.5 1338.0,811.3 C1331.4,809.1 1324.9,806.5 1318.7,803.4 C1312.5,800.3 1306.6,796.4 1300.8,792.8 C1294.9,789.2 1289.5,785.1 1283.5,781.8 C1277.6,778.4 1271.5,775.6 1265.0,772.7 C1258.6,769.9 1251.4,767.9 1245.0,764.7 C1238.6,761.5 1231.8,758.2 1226.6,753.4 C1221.4,748.6 1217.2,742.5 1213.9,736.1 C1210.6,729.8 1209.1,722.0 1206.9,715.2 C1204.6,708.4 1203.2,701.4 1200.4,695.3 C1197.5,689.1 1193.7,683.7 1189.6,678.1 C1185.5,672.5 1179.8,667.5 1175.7,661.7 C1171.5,655.8 1167.1,649.7 1164.6,643.1 C1162.0,636.5 1161.0,629.3 1160.5,622.2 C1160.1,615.2 1161.3,607.9 1162.0,600.8 C1162.6,593.8 1163.8,586.9 1164.5,580.0 C1165.1,573.1 1165.4,566.3 1166.0,559.5 C1166.6,552.7 1167.0,545.9 1168.0,539.1 C1168.9,532.3 1170.2,525.5 1171.5,518.8 C1172.9,512.0 1174.5,505.3 1176.1,498.5 C1177.8,491.7 1179.2,484.7 1181.4,478.1 C1183.7,471.4 1186.0,464.5 1189.5,458.5 C1193.1,452.5 1197.7,446.9 1202.8,441.9 C1207.9,437.0 1214.4,433.2 1220.1,429.0 C1225.7,424.8 1231.8,421.4 1236.8,416.8 C1241.8,412.2 1245.9,407.1 1250.2,401.5 C1254.4,395.9 1257.7,388.9 1262.2,383.2 C1266.7,377.5 1271.5,371.4 1277.3,367.4 C1283.1,363.4 1290.0,360.7 1297.0,359.0 C1303.9,357.3 1311.7,357.6 1318.9,357.0 C1326.0,356.5 1333.1,356.7 1339.9,355.7 C1346.7,354.6 1353.0,352.7 1359.6,350.7 C1366.1,348.7 1372.6,345.7 1379.3,343.9 C1386.1,342.0 1393.1,340.2 1400.0,339.5 C1406.9,338.9 1414.1,339.2 1421.0,339.8 C1428.0,340.4 1434.9,341.8 1441.7,343.3 C1448.6,344.8 1455.4,346.5 1462.0,348.7 C1468.6,350.9 1475.1,353.5 1481.3,356.6 C1487.5,359.7 1493.4,363.6 1499.2,367.2 C1505.1,370.8 1510.5,374.9 1516.5,378.2 C1522.4,381.6 1528.5,384.4 1535.0,387.3 C1541.4,390.1 1548.6,392.1 1555.0,395.3 C1561.4,398.5 1568.2,401.8 1573.4,406.6 C1578.6,411.4 1582.8,417.5 1586.1,423.9 C1589.4,430.2 1590.9,438.0 1593.1,444.8 C1595.4,451.6 1596.8,458.6 1599.6,464.7 C1602.5,470.9 1606.3,476.3 1610.4,481.9 C1614.5,487.5 1620.2,492.5 1624.3,498.3 C1628.5,504.2 1632.9,510.3 1635.4,516.9 C1638.0,523.5 1639.0,530.7 1639.5,537.8 C1639.9,544.8 1638.7,552.1 1638.0,559.2 C1637.4,566.2 1636.2,573.1 1635.5,580.0Z"/></clipPath><path d="M1635.5,580.0 C1634.9,586.9 1634.6,593.7 1634.0,600.5 C1633.4,607.3 1633.0,614.1 1632.0,620.9 C1631.1,627.7 1629.8,634.5 1628.5,641.2 C1627.1,648.0 1625.5,654.7 1623.9,661.5 C1622.2,668.3 1620.8,675.3 1618.6,681.9 C1616.3,688.6 1614.0,695.5 1610.5,701.5 C1606.9,707.5 1602.3,713.1 1597.2,718.1 C1592.1,723.0 1585.6,726.8 1579.9,731.0 C1574.3,735.2 1568.2,738.6 1563.2,743.2 C1558.2,747.8 1554.1,752.9 1549.8,758.5 C1545.6,764.1 1542.3,771.1 1537.8,776.8 C1533.3,782.5 1528.5,788.6 1522.7,792.6 C1516.9,796.6 1510.0,799.3 1503.0,801.0 C1496.1,802.7 1488.3,802.4 1481.1,803.0 C1474.0,803.5 1466.9,803.3 1460.1,804.3 C1453.3,805.4 1447.0,807.3 1440.4,809.3 C1433.9,811.3 1427.4,814.3 1420.7,816.1 C1413.9,818.0 1406.9,819.8 1400.0,820.5 C1393.1,821.1 1385.9,820.8 1379.0,820.2 C1372.0,819.6 1365.1,818.2 1358.3,816.7 C1351.4,815.2 1344.6,813.5 1338.0,811.3 C1331.4,809.1 1324.9,806.5 1318.7,803.4 C1312.5,800.3 1306.6,796.4 1300.8,792.8 C1294.9,789.2 1289.5,785.1 1283.5,781.8 C1277.6,778.4 1271.5,775.6 1265.0,772.7 C1258.6,769.9 1251.4,767.9 1245.0,764.7 C1238.6,761.5 1231.8,758.2 1226.6,753.4 C1221.4,748.6 1217.2,742.5 1213.9,736.1 C1210.6,729.8 1209.1,722.0 1206.9,715.2 C1204.6,708.4 1203.2,701.4 1200.4,695.3 C1197.5,689.1 1193.7,683.7 1189.6,678.1 C1185.5,672.5 1179.8,667.5 1175.7,661.7 C1171.5,655.8 1167.1,649.7 1164.6,643.1 C1162.0,636.5 1161.0,629.3 1160.5,622.2 C1160.1,615.2 1161.3,607.9 1162.0,600.8 C1162.6,593.8 1163.8,586.9 1164.5,580.0 C1165.1,573.1 1165.4,566.3 1166.0,559.5 C1166.6,552.7 1167.0,545.9 1168.0,539.1 C1168.9,532.3 1170.2,525.5 1171.5,518.8 C1172.9,512.0 1174.5,505.3 1176.1,498.5 C1177.8,491.7 1179.2,484.7 1181.4,478.1 C1183.7,471.4 1186.0,464.5 1189.5,458.5 C1193.1,452.5 1197.7,446.9 1202.8,441.9 C1207.9,437.0 1214.4,433.2 1220.1,429.0 C1225.7,424.8 1231.8,421.4 1236.8,416.8 C1241.8,412.2 1245.9,407.1 1250.2,401.5 C1254.4,395.9 1257.7,388.9 1262.2,383.2 C1266.7,377.5 1271.5,371.4 1277.3,367.4 C1283.1,363.4 1290.0,360.7 1297.0,359.0 C1303.9,357.3 1311.7,357.6 1318.9,357.0 C1326.0,356.5 1333.1,356.7 1339.9,355.7 C1346.7,354.6 1353.0,352.7 1359.6,350.7 C1366.1,348.7 1372.6,345.7 1379.3,343.9 C1386.1,342.0 1393.1,340.2 1400.0,339.5 C1406.9,338.9 1414.1,339.2 1421.0,339.8 C1428.0,340.4 1434.9,341.8 1441.7,343.3 C1448.6,344.8 1455.4,346.5 1462.0,348.7 C1468.6,350.9 1475.1,353.5 1481.3,356.6 C1487.5,359.7 1493.4,363.6 1499.2,367.2 C1505.1,370.8 1510.5,374.9 1516.5,378.2 C1522.4,381.6 1528.5,384.4 1535.0,387.3 C1541.4,390.1 1548.6,392.1 1555.0,395.3 C1561.4,398.5 1568.2,401.8 1573.4,406.6 C1578.6,411.4 1582.8,417.5 1586.1,423.9 C1589.4,430.2 1590.9,438.0 1593.1,444.8 C1595.4,451.6 1596.8,458.6 1599.6,464.7 C1602.5,470.9 1606.3,476.3 1610.4,481.9 C1614.5,487.5 1620.2,492.5 1624.3,498.3 C1628.5,504.2 1632.9,510.3 1635.4,516.9 C1638.0,523.5 1639.0,530.7 1639.5,537.8 C1639.9,544.8 1638.7,552.1 1638.0,559.2 C1637.4,566.2 1636.2,573.1 1635.5,580.0Z" fill="#d9a093" stroke="#d49282" stroke-width="6"/><g clip-path="url(#tc4)"><ellipse cx="1376" cy="532" rx="202" ry="167" fill="#e6b4a7"/><ellipse cx="1471" cy="758" rx="214" ry="83" fill="#cb9184" opacity="0.8"/><circle cx="1376" cy="580" r="86" fill="#c98d85"/><path d="M1428,511 A86,86 0 0 1 1325,649 C1385,631 1419,580 1428,511 Z" fill="#b4675e"/><ellipse cx="1333" cy="541" rx="8" ry="14" fill="#f6e0dc" transform="rotate(-30 1333 541)"/><circle cx="1527" cy="590" r="12" fill="#c47a6e" opacity="0.85"/><circle cx="1477" cy="674" r="8" fill="#c47a6e" opacity="0.85"/><circle cx="1234" cy="543" r="8" fill="#c47a6e" opacity="0.85"/><circle cx="1503" cy="717" r="16" fill="#c47a6e" opacity="0.85"/><circle cx="1526" cy="630" r="16" fill="#c47a6e" opacity="0.85"/><circle cx="1259" cy="628" r="16" fill="#c47a6e" opacity="0.85"/><circle cx="1500" cy="647" r="12" fill="#c47a6e" opacity="0.85"/><circle cx="1327" cy="692" r="12" fill="#c47a6e" opacity="0.85"/><circle cx="1276" cy="720" r="8" fill="#c47a6e" opacity="0.85"/></g><clipPath id="tc5"><path d="M878.6,1262.0 C878.5,1268.3 878.3,1274.5 877.8,1280.8 C877.3,1287.0 876.5,1293.2 875.7,1299.5 C875.0,1305.8 874.2,1312.0 873.4,1318.4 C872.5,1324.7 872.1,1331.3 870.7,1337.6 C869.4,1343.9 868.0,1350.5 865.2,1356.3 C862.5,1362.1 858.6,1367.6 854.2,1372.4 C849.9,1377.2 844.1,1381.1 839.2,1385.4 C834.3,1389.6 829.0,1393.1 824.8,1397.7 C820.5,1402.3 817.3,1407.4 813.9,1412.9 C810.5,1418.4 808.1,1425.0 804.4,1430.6 C800.8,1436.1 796.9,1442.0 791.9,1446.1 C786.9,1450.2 780.8,1453.1 774.6,1455.3 C768.4,1457.5 761.3,1457.9 754.9,1459.1 C748.4,1460.2 742.0,1460.8 735.9,1462.3 C729.8,1463.9 724.2,1466.1 718.3,1468.3 C712.4,1470.6 706.7,1473.6 700.7,1475.7 C694.7,1477.7 688.4,1479.7 682.1,1480.8 C675.9,1481.9 669.4,1482.3 663.0,1482.4 C656.6,1482.5 650.2,1482.2 643.8,1481.5 C637.4,1480.9 631.0,1480.1 624.8,1478.7 C618.6,1477.2 612.4,1475.2 606.5,1472.8 C600.6,1470.3 595.1,1466.9 589.5,1464.0 C583.9,1461.0 578.7,1457.5 573.0,1454.9 C567.3,1452.3 561.5,1450.4 555.4,1448.4 C549.3,1446.4 542.4,1445.3 536.3,1443.0 C530.1,1440.6 523.6,1438.2 518.5,1434.2 C513.4,1430.3 509.1,1425.0 505.6,1419.4 C502.1,1413.8 500.2,1406.9 497.6,1400.8 C494.9,1394.8 493.1,1388.6 489.9,1383.2 C486.8,1377.8 482.9,1373.2 478.7,1368.4 C474.5,1363.6 469.1,1359.4 464.9,1354.4 C460.7,1349.3 456.4,1344.0 453.6,1338.2 C450.8,1332.4 449.2,1325.9 448.2,1319.6 C447.1,1313.2 447.4,1306.5 447.3,1300.0 C447.2,1293.6 447.4,1287.2 447.5,1280.9 C447.5,1274.5 447.3,1268.3 447.4,1262.0 C447.5,1255.7 447.7,1249.5 448.2,1243.2 C448.7,1237.0 449.5,1230.8 450.3,1224.5 C451.0,1218.2 451.8,1212.0 452.6,1205.6 C453.5,1199.3 453.9,1192.7 455.3,1186.4 C456.6,1180.1 458.0,1173.5 460.8,1167.7 C463.5,1161.9 467.4,1156.4 471.8,1151.6 C476.1,1146.8 481.9,1142.9 486.8,1138.6 C491.7,1134.4 497.0,1130.9 501.2,1126.3 C505.5,1121.7 508.7,1116.6 512.1,1111.1 C515.5,1105.6 517.9,1099.0 521.6,1093.4 C525.2,1087.9 529.1,1082.0 534.1,1077.9 C539.1,1073.8 545.2,1070.9 551.4,1068.7 C557.6,1066.5 564.7,1066.1 571.1,1064.9 C577.6,1063.8 584.0,1063.2 590.1,1061.7 C596.2,1060.1 601.8,1057.9 607.7,1055.7 C613.6,1053.4 619.3,1050.4 625.3,1048.3 C631.3,1046.3 637.6,1044.3 643.9,1043.2 C650.1,1042.1 656.6,1041.7 663.0,1041.6 C669.4,1041.5 675.8,1041.8 682.2,1042.5 C688.6,1043.1 695.0,1043.9 701.2,1045.3 C707.4,1046.8 713.6,1048.8 719.5,1051.2 C725.4,1053.7 730.9,1057.1 736.5,1060.0 C742.1,1063.0 747.3,1066.5 753.0,1069.1 C758.7,1071.7 764.5,1073.6 770.6,1075.6 C776.7,1077.6 783.6,1078.7 789.7,1081.0 C795.9,1083.4 802.4,1085.8 807.5,1089.8 C812.6,1093.7 816.9,1099.0 820.4,1104.6 C823.9,1110.2 825.8,1117.1 828.4,1123.2 C831.1,1129.2 832.9,1135.4 836.1,1140.8 C839.2,1146.2 843.1,1150.8 847.3,1155.6 C851.5,1160.4 856.9,1164.6 861.1,1169.6 C865.3,1174.7 869.6,1180.0 872.4,1185.8 C875.2,1191.6 876.8,1198.1 877.8,1204.4 C878.9,1210.8 878.6,1217.5 878.7,1224.0 C878.8,1230.4 878.6,1236.8 878.5,1243.1 C878.5,1249.5 878.7,1255.7 878.6,1262.0Z"/></clipPath><path d="M878.6,1262.0 C878.5,1268.3 878.3,1274.5 877.8,1280.8 C877.3,1287.0 876.5,1293.2 875.7,1299.5 C875.0,1305.8 874.2,1312.0 873.4,1318.4 C872.5,1324.7 872.1,1331.3 870.7,1337.6 C869.4,1343.9 868.0,1350.5 865.2,1356.3 C862.5,1362.1 858.6,1367.6 854.2,1372.4 C849.9,1377.2 844.1,1381.1 839.2,1385.4 C834.3,1389.6 829.0,1393.1 824.8,1397.7 C820.5,1402.3 817.3,1407.4 813.9,1412.9 C810.5,1418.4 808.1,1425.0 804.4,1430.6 C800.8,1436.1 796.9,1442.0 791.9,1446.1 C786.9,1450.2 780.8,1453.1 774.6,1455.3 C768.4,1457.5 761.3,1457.9 754.9,1459.1 C748.4,1460.2 742.0,1460.8 735.9,1462.3 C729.8,1463.9 724.2,1466.1 718.3,1468.3 C712.4,1470.6 706.7,1473.6 700.7,1475.7 C694.7,1477.7 688.4,1479.7 682.1,1480.8 C675.9,1481.9 669.4,1482.3 663.0,1482.4 C656.6,1482.5 650.2,1482.2 643.8,1481.5 C637.4,1480.9 631.0,1480.1 624.8,1478.7 C618.6,1477.2 612.4,1475.2 606.5,1472.8 C600.6,1470.3 595.1,1466.9 589.5,1464.0 C583.9,1461.0 578.7,1457.5 573.0,1454.9 C567.3,1452.3 561.5,1450.4 555.4,1448.4 C549.3,1446.4 542.4,1445.3 536.3,1443.0 C530.1,1440.6 523.6,1438.2 518.5,1434.2 C513.4,1430.3 509.1,1425.0 505.6,1419.4 C502.1,1413.8 500.2,1406.9 497.6,1400.8 C494.9,1394.8 493.1,1388.6 489.9,1383.2 C486.8,1377.8 482.9,1373.2 478.7,1368.4 C474.5,1363.6 469.1,1359.4 464.9,1354.4 C460.7,1349.3 456.4,1344.0 453.6,1338.2 C450.8,1332.4 449.2,1325.9 448.2,1319.6 C447.1,1313.2 447.4,1306.5 447.3,1300.0 C447.2,1293.6 447.4,1287.2 447.5,1280.9 C447.5,1274.5 447.3,1268.3 447.4,1262.0 C447.5,1255.7 447.7,1249.5 448.2,1243.2 C448.7,1237.0 449.5,1230.8 450.3,1224.5 C451.0,1218.2 451.8,1212.0 452.6,1205.6 C453.5,1199.3 453.9,1192.7 455.3,1186.4 C456.6,1180.1 458.0,1173.5 460.8,1167.7 C463.5,1161.9 467.4,1156.4 471.8,1151.6 C476.1,1146.8 481.9,1142.9 486.8,1138.6 C491.7,1134.4 497.0,1130.9 501.2,1126.3 C505.5,1121.7 508.7,1116.6 512.1,1111.1 C515.5,1105.6 517.9,1099.0 521.6,1093.4 C525.2,1087.9 529.1,1082.0 534.1,1077.9 C539.1,1073.8 545.2,1070.9 551.4,1068.7 C557.6,1066.5 564.7,1066.1 571.1,1064.9 C577.6,1063.8 584.0,1063.2 590.1,1061.7 C596.2,1060.1 601.8,1057.9 607.7,1055.7 C613.6,1053.4 619.3,1050.4 625.3,1048.3 C631.3,1046.3 637.6,1044.3 643.9,1043.2 C650.1,1042.1 656.6,1041.7 663.0,1041.6 C669.4,1041.5 675.8,1041.8 682.2,1042.5 C688.6,1043.1 695.0,1043.9 701.2,1045.3 C707.4,1046.8 713.6,1048.8 719.5,1051.2 C725.4,1053.7 730.9,1057.1 736.5,1060.0 C742.1,1063.0 747.3,1066.5 753.0,1069.1 C758.7,1071.7 764.5,1073.6 770.6,1075.6 C776.7,1077.6 783.6,1078.7 789.7,1081.0 C795.9,1083.4 802.4,1085.8 807.5,1089.8 C812.6,1093.7 816.9,1099.0 820.4,1104.6 C823.9,1110.2 825.8,1117.1 828.4,1123.2 C831.1,1129.2 832.9,1135.4 836.1,1140.8 C839.2,1146.2 843.1,1150.8 847.3,1155.6 C851.5,1160.4 856.9,1164.6 861.1,1169.6 C865.3,1174.7 869.6,1180.0 872.4,1185.8 C875.2,1191.6 876.8,1198.1 877.8,1204.4 C878.9,1210.8 878.6,1217.5 878.7,1224.0 C878.8,1230.4 878.6,1236.8 878.5,1243.1 C878.5,1249.5 878.7,1255.7 878.6,1262.0Z" fill="#d9a093" stroke="#d49282" stroke-width="6"/><g clip-path="url(#tc5)"><ellipse cx="641" cy="1218" rx="185" ry="153" fill="#e6b4a7"/><ellipse cx="728" cy="1426" rx="196" ry="76" fill="#cb9184" opacity="0.8"/><circle cx="641" cy="1262" r="78" fill="#c98d85"/><path d="M688,1199 A78,78 0 0 1 594,1325 C649,1309 680,1262 688,1199 Z" fill="#b4675e"/><ellipse cx="602" cy="1227" rx="7" ry="13" fill="#f6e0dc" transform="rotate(-30 602 1227)"/><circle cx="575" cy="1157" r="16" fill="#c47a6e" opacity="0.85"/><circle cx="770" cy="1341" r="12" fill="#c47a6e" opacity="0.85"/><circle cx="558" cy="1367" r="8" fill="#c47a6e" opacity="0.85"/><circle cx="553" cy="1192" r="16" fill="#c47a6e" opacity="0.85"/><circle cx="588" cy="1399" r="12" fill="#c47a6e" opacity="0.85"/><circle cx="822" cy="1252" r="12" fill="#c47a6e" opacity="0.85"/><circle cx="688" cy="1409" r="16" fill="#c47a6e" opacity="0.85"/><circle cx="526" cy="1272" r="8" fill="#c47a6e" opacity="0.85"/><circle cx="796" cy="1272" r="16" fill="#c47a6e" opacity="0.85"/></g><clipPath id="tc6"><path d="M1443.5,1258.0 C1443.4,1266.1 1442.7,1274.1 1442.6,1282.3 C1442.4,1290.4 1442.5,1298.6 1442.4,1306.9 C1442.3,1315.2 1443.0,1323.9 1442.0,1332.2 C1441.1,1340.6 1439.9,1349.2 1436.8,1356.9 C1433.7,1364.6 1428.7,1371.9 1423.4,1378.5 C1418.1,1385.1 1410.8,1390.6 1405.0,1396.6 C1399.2,1402.6 1393.1,1407.9 1388.5,1414.5 C1383.8,1421.0 1380.7,1428.4 1377.1,1436.0 C1373.5,1443.6 1371.2,1452.5 1367.0,1460.0 C1362.8,1467.4 1358.0,1475.0 1351.8,1480.7 C1345.7,1486.3 1337.8,1490.3 1330.0,1493.7 C1322.3,1497.1 1313.3,1498.6 1305.3,1501.0 C1297.2,1503.4 1289.3,1505.4 1281.7,1508.3 C1274.1,1511.2 1267.2,1515.0 1259.8,1518.5 C1252.5,1522.0 1245.3,1526.1 1237.7,1529.2 C1230.1,1532.3 1222.2,1535.1 1214.2,1537.1 C1206.2,1539.1 1198.0,1540.4 1189.8,1541.5 C1181.6,1542.6 1173.3,1543.3 1165.0,1543.5 C1156.7,1543.6 1148.3,1543.5 1140.1,1542.3 C1132.0,1541.1 1123.8,1538.8 1116.0,1536.0 C1108.2,1533.3 1100.8,1529.0 1093.3,1525.7 C1085.8,1522.4 1078.7,1518.7 1071.0,1516.2 C1063.3,1513.7 1055.4,1512.4 1047.2,1510.7 C1038.9,1509.1 1029.8,1508.8 1021.6,1506.4 C1013.4,1504.1 1004.8,1501.3 998.0,1496.5 C991.1,1491.8 985.4,1484.9 980.4,1477.9 C975.5,1471.0 972.3,1462.2 968.2,1454.8 C964.0,1447.5 960.5,1440.1 955.6,1433.7 C950.7,1427.3 944.7,1422.1 938.7,1416.5 C932.7,1410.8 925.3,1405.8 919.6,1399.7 C913.8,1393.6 908.2,1386.9 904.2,1379.6 C900.2,1372.4 897.6,1364.1 895.5,1356.1 C893.4,1348.0 892.6,1339.5 891.5,1331.3 C890.3,1323.1 889.5,1314.9 888.7,1306.7 C887.9,1298.6 887.0,1290.5 886.6,1282.4 C886.3,1274.2 886.3,1266.1 886.5,1258.0 C886.6,1249.9 887.3,1241.9 887.4,1233.7 C887.6,1225.6 887.5,1217.4 887.6,1209.1 C887.7,1200.8 887.0,1192.1 888.0,1183.8 C888.9,1175.4 890.1,1166.8 893.2,1159.1 C896.3,1151.4 901.3,1144.1 906.6,1137.5 C911.9,1130.9 919.2,1125.4 925.0,1119.4 C930.8,1113.4 936.9,1108.1 941.5,1101.5 C946.2,1095.0 949.3,1087.6 952.9,1080.0 C956.5,1072.4 958.8,1063.5 963.0,1056.0 C967.2,1048.6 972.0,1041.0 978.2,1035.3 C984.3,1029.7 992.2,1025.7 1000.0,1022.3 C1007.7,1018.9 1016.7,1017.4 1024.7,1015.0 C1032.8,1012.6 1040.7,1010.6 1048.3,1007.7 C1055.9,1004.8 1062.8,1001.0 1070.2,997.5 C1077.5,994.0 1084.7,989.9 1092.3,986.8 C1099.9,983.7 1107.8,980.9 1115.8,978.9 C1123.8,976.9 1132.0,975.6 1140.2,974.5 C1148.4,973.4 1156.7,972.7 1165.0,972.5 C1173.3,972.4 1181.7,972.5 1189.9,973.7 C1198.0,974.9 1206.2,977.2 1214.0,980.0 C1221.8,982.7 1229.2,987.0 1236.7,990.3 C1244.2,993.6 1251.3,997.3 1259.0,999.8 C1266.7,1002.3 1274.6,1003.6 1282.8,1005.3 C1291.1,1006.9 1300.2,1007.2 1308.4,1009.6 C1316.6,1011.9 1325.2,1014.7 1332.0,1019.5 C1338.9,1024.2 1344.6,1031.1 1349.6,1038.1 C1354.5,1045.0 1357.7,1053.8 1361.8,1061.2 C1366.0,1068.5 1369.5,1075.9 1374.4,1082.3 C1379.3,1088.7 1385.3,1093.9 1391.3,1099.5 C1397.3,1105.2 1404.7,1110.2 1410.4,1116.3 C1416.2,1122.4 1421.8,1129.1 1425.8,1136.4 C1429.8,1143.6 1432.4,1151.9 1434.5,1159.9 C1436.6,1168.0 1437.4,1176.5 1438.5,1184.7 C1439.7,1192.9 1440.5,1201.1 1441.3,1209.3 C1442.1,1217.4 1443.0,1225.5 1443.4,1233.6 C1443.7,1241.8 1443.7,1249.9 1443.5,1258.0Z"/></clipPath><path d="M1443.5,1258.0 C1443.4,1266.1 1442.7,1274.1 1442.6,1282.3 C1442.4,1290.4 1442.5,1298.6 1442.4,1306.9 C1442.3,1315.2 1443.0,1323.9 1442.0,1332.2 C1441.1,1340.6 1439.9,1349.2 1436.8,1356.9 C1433.7,1364.6 1428.7,1371.9 1423.4,1378.5 C1418.1,1385.1 1410.8,1390.6 1405.0,1396.6 C1399.2,1402.6 1393.1,1407.9 1388.5,1414.5 C1383.8,1421.0 1380.7,1428.4 1377.1,1436.0 C1373.5,1443.6 1371.2,1452.5 1367.0,1460.0 C1362.8,1467.4 1358.0,1475.0 1351.8,1480.7 C1345.7,1486.3 1337.8,1490.3 1330.0,1493.7 C1322.3,1497.1 1313.3,1498.6 1305.3,1501.0 C1297.2,1503.4 1289.3,1505.4 1281.7,1508.3 C1274.1,1511.2 1267.2,1515.0 1259.8,1518.5 C1252.5,1522.0 1245.3,1526.1 1237.7,1529.2 C1230.1,1532.3 1222.2,1535.1 1214.2,1537.1 C1206.2,1539.1 1198.0,1540.4 1189.8,1541.5 C1181.6,1542.6 1173.3,1543.3 1165.0,1543.5 C1156.7,1543.6 1148.3,1543.5 1140.1,1542.3 C1132.0,1541.1 1123.8,1538.8 1116.0,1536.0 C1108.2,1533.3 1100.8,1529.0 1093.3,1525.7 C1085.8,1522.4 1078.7,1518.7 1071.0,1516.2 C1063.3,1513.7 1055.4,1512.4 1047.2,1510.7 C1038.9,1509.1 1029.8,1508.8 1021.6,1506.4 C1013.4,1504.1 1004.8,1501.3 998.0,1496.5 C991.1,1491.8 985.4,1484.9 980.4,1477.9 C975.5,1471.0 972.3,1462.2 968.2,1454.8 C964.0,1447.5 960.5,1440.1 955.6,1433.7 C950.7,1427.3 944.7,1422.1 938.7,1416.5 C932.7,1410.8 925.3,1405.8 919.6,1399.7 C913.8,1393.6 908.2,1386.9 904.2,1379.6 C900.2,1372.4 897.6,1364.1 895.5,1356.1 C893.4,1348.0 892.6,1339.5 891.5,1331.3 C890.3,1323.1 889.5,1314.9 888.7,1306.7 C887.9,1298.6 887.0,1290.5 886.6,1282.4 C886.3,1274.2 886.3,1266.1 886.5,1258.0 C886.6,1249.9 887.3,1241.9 887.4,1233.7 C887.6,1225.6 887.5,1217.4 887.6,1209.1 C887.7,1200.8 887.0,1192.1 888.0,1183.8 C888.9,1175.4 890.1,1166.8 893.2,1159.1 C896.3,1151.4 901.3,1144.1 906.6,1137.5 C911.9,1130.9 919.2,1125.4 925.0,1119.4 C930.8,1113.4 936.9,1108.1 941.5,1101.5 C946.2,1095.0 949.3,1087.6 952.9,1080.0 C956.5,1072.4 958.8,1063.5 963.0,1056.0 C967.2,1048.6 972.0,1041.0 978.2,1035.3 C984.3,1029.7 992.2,1025.7 1000.0,1022.3 C1007.7,1018.9 1016.7,1017.4 1024.7,1015.0 C1032.8,1012.6 1040.7,1010.6 1048.3,1007.7 C1055.9,1004.8 1062.8,1001.0 1070.2,997.5 C1077.5,994.0 1084.7,989.9 1092.3,986.8 C1099.9,983.7 1107.8,980.9 1115.8,978.9 C1123.8,976.9 1132.0,975.6 1140.2,974.5 C1148.4,973.4 1156.7,972.7 1165.0,972.5 C1173.3,972.4 1181.7,972.5 1189.9,973.7 C1198.0,974.9 1206.2,977.2 1214.0,980.0 C1221.8,982.7 1229.2,987.0 1236.7,990.3 C1244.2,993.6 1251.3,997.3 1259.0,999.8 C1266.7,1002.3 1274.6,1003.6 1282.8,1005.3 C1291.1,1006.9 1300.2,1007.2 1308.4,1009.6 C1316.6,1011.9 1325.2,1014.7 1332.0,1019.5 C1338.9,1024.2 1344.6,1031.1 1349.6,1038.1 C1354.5,1045.0 1357.7,1053.8 1361.8,1061.2 C1366.0,1068.5 1369.5,1075.9 1374.4,1082.3 C1379.3,1088.7 1385.3,1093.9 1391.3,1099.5 C1397.3,1105.2 1404.7,1110.2 1410.4,1116.3 C1416.2,1122.4 1421.8,1129.1 1425.8,1136.4 C1429.8,1143.6 1432.4,1151.9 1434.5,1159.9 C1436.6,1168.0 1437.4,1176.5 1438.5,1184.7 C1439.7,1192.9 1440.5,1201.1 1441.3,1209.3 C1442.1,1217.4 1443.0,1225.5 1443.4,1233.6 C1443.7,1241.8 1443.7,1249.9 1443.5,1258.0Z" fill="#d9a093" stroke="#d49282" stroke-width="6"/><g clip-path="url(#tc6)"><ellipse cx="1137" cy="1202" rx="240" ry="197" fill="#e6b4a7"/><ellipse cx="1250" cy="1470" rx="254" ry="99" fill="#cb9184" opacity="0.8"/><circle cx="1137" cy="1258" r="102" fill="#c98d85"/><path d="M1198,1177 A102,102 0 0 1 1076,1339 C1147,1319 1188,1258 1198,1177 Z" fill="#b4675e"/><ellipse cx="1086" cy="1212" rx="9" ry="16" fill="#f6e0dc" transform="rotate(-30 1086 1212)"/><circle cx="1140" cy="1439" r="8" fill="#c47a6e" opacity="0.85"/><circle cx="1118" cy="1393" r="12" fill="#c47a6e" opacity="0.85"/><circle cx="1330" cy="1269" r="8" fill="#c47a6e" opacity="0.85"/><circle cx="1370" cy="1200" r="16" fill="#c47a6e" opacity="0.85"/><circle cx="1354" cy="1301" r="8" fill="#c47a6e" opacity="0.85"/><circle cx="1136" cy="1473" r="8" fill="#c47a6e" opacity="0.85"/><circle cx="1217" cy="1464" r="16" fill="#c47a6e" opacity="0.85"/><circle cx="991" cy="1342" r="8" fill="#c47a6e" opacity="0.85"/><circle cx="1098" cy="1049" r="8" fill="#c47a6e" opacity="0.85"/></g><clipPath id="tcC"><path d="M1303.8,755.0 C1305.9,767.9 1305.9,781.5 1303.5,794.2 C1301.2,807.0 1294.8,819.5 1289.8,831.7 C1284.7,843.8 1277.9,855.2 1273.2,867.1 C1268.6,879.0 1265.2,890.8 1261.7,903.0 C1258.2,915.2 1256.1,928.0 1252.3,940.3 C1248.4,952.5 1244.1,964.9 1238.5,976.4 C1232.9,988.0 1226.0,999.0 1218.7,1009.7 C1211.4,1020.3 1203.4,1030.6 1194.9,1040.2 C1186.4,1049.9 1177.5,1059.3 1167.7,1067.7 C1158.0,1076.1 1147.2,1083.4 1136.4,1090.4 C1125.7,1097.4 1114.0,1102.9 1103.3,1109.5 C1092.5,1116.2 1082.0,1122.8 1071.8,1130.5 C1061.6,1138.2 1052.3,1147.8 1041.9,1155.8 C1031.4,1163.7 1020.8,1172.8 1009.0,1178.2 C997.2,1183.6 984.0,1186.8 971.0,1187.9 C958.0,1189.0 943.9,1186.1 930.8,1185.1 C917.7,1184.1 905.0,1181.4 892.3,1181.8 C879.7,1182.2 867.7,1184.9 855.0,1187.5 C842.3,1190.0 829.3,1195.4 816.3,1197.2 C803.3,1199.0 789.6,1200.1 776.9,1198.1 C764.1,1196.2 751.6,1190.8 739.7,1185.4 C727.8,1180.1 716.7,1172.3 705.4,1166.1 C694.0,1159.9 683.0,1153.9 671.6,1148.3 C660.2,1142.7 648.5,1138.1 637.1,1132.5 C625.7,1126.9 614.2,1121.2 603.2,1114.6 C592.2,1108.1 581.6,1100.8 571.2,1093.2 C560.8,1085.6 550.5,1077.8 540.9,1069.1 C531.3,1060.5 521.6,1051.6 513.6,1041.5 C505.6,1031.3 498.8,1020.0 493.0,1008.4 C487.3,996.9 483.8,983.9 479.1,972.0 C474.4,960.1 470.7,948.1 465.0,936.9 C459.2,925.6 451.6,915.4 444.4,904.4 C437.3,893.4 427.9,882.8 422.2,871.0 C416.6,859.1 411.8,846.3 410.5,833.4 C409.2,820.5 412.0,806.6 414.2,793.6 C416.4,780.5 421.7,767.7 423.8,755.0 C425.9,742.3 427.0,730.2 426.9,717.5 C426.8,704.9 423.8,691.9 423.2,678.9 C422.5,665.8 421.3,652.1 423.2,639.3 C425.2,626.5 429.5,613.9 434.7,602.0 C440.0,590.2 447.8,579.3 454.7,568.3 C461.7,557.4 469.2,547.0 476.4,536.4 C483.6,525.9 490.5,515.2 497.9,504.9 C505.3,494.6 512.9,484.5 520.8,474.6 C528.7,464.7 537.1,455.2 545.5,445.5 C553.8,435.7 561.9,425.7 570.8,416.3 C579.6,406.8 588.3,396.7 598.5,388.7 C608.7,380.7 619.9,373.5 631.8,368.4 C643.7,363.3 657.3,361.1 670.0,358.2 C682.7,355.3 695.8,354.7 708.1,351.3 C720.3,347.9 731.6,343.4 743.2,337.9 C754.9,332.4 766.0,323.9 778.0,318.4 C790.1,313.0 802.8,307.0 815.6,305.1 C828.5,303.3 842.1,304.9 855.0,307.5 C867.9,310.0 880.6,316.5 893.0,320.5 C905.5,324.5 917.3,329.0 929.7,331.5 C942.1,334.0 954.6,334.1 967.4,335.4 C980.2,336.7 993.7,336.6 1006.4,339.1 C1019.0,341.7 1031.7,345.5 1043.5,350.7 C1055.3,355.9 1066.3,363.2 1077.1,370.4 C1087.8,377.6 1098.0,385.7 1107.9,393.8 C1117.9,401.9 1127.6,410.3 1136.8,419.1 C1146.0,428.0 1154.6,437.4 1163.1,446.9 C1171.6,456.3 1179.3,466.3 1187.7,475.8 C1196.2,485.3 1205.0,494.3 1213.9,503.7 C1222.8,513.1 1233.1,521.8 1241.2,532.0 C1249.3,542.2 1257.5,553.1 1262.5,565.0 C1267.5,576.9 1269.8,590.4 1271.4,603.5 C1273.0,616.5 1271.3,630.4 1272.2,643.2 C1273.2,656.1 1274.0,668.3 1277.1,680.6 C1280.2,692.8 1286.4,704.5 1290.8,716.9 C1295.3,729.3 1301.7,742.1 1303.8,755.0Z"/></clipPath><path d="M1303.8,755.0 C1305.9,767.9 1305.9,781.5 1303.5,794.2 C1301.2,807.0 1294.8,819.5 1289.8,831.7 C1284.7,843.8 1277.9,855.2 1273.2,867.1 C1268.6,879.0 1265.2,890.8 1261.7,903.0 C1258.2,915.2 1256.1,928.0 1252.3,940.3 C1248.4,952.5 1244.1,964.9 1238.5,976.4 C1232.9,988.0 1226.0,999.0 1218.7,1009.7 C1211.4,1020.3 1203.4,1030.6 1194.9,1040.2 C1186.4,1049.9 1177.5,1059.3 1167.7,1067.7 C1158.0,1076.1 1147.2,1083.4 1136.4,1090.4 C1125.7,1097.4 1114.0,1102.9 1103.3,1109.5 C1092.5,1116.2 1082.0,1122.8 1071.8,1130.5 C1061.6,1138.2 1052.3,1147.8 1041.9,1155.8 C1031.4,1163.7 1020.8,1172.8 1009.0,1178.2 C997.2,1183.6 984.0,1186.8 971.0,1187.9 C958.0,1189.0 943.9,1186.1 930.8,1185.1 C917.7,1184.1 905.0,1181.4 892.3,1181.8 C879.7,1182.2 867.7,1184.9 855.0,1187.5 C842.3,1190.0 829.3,1195.4 816.3,1197.2 C803.3,1199.0 789.6,1200.1 776.9,1198.1 C764.1,1196.2 751.6,1190.8 739.7,1185.4 C727.8,1180.1 716.7,1172.3 705.4,1166.1 C694.0,1159.9 683.0,1153.9 671.6,1148.3 C660.2,1142.7 648.5,1138.1 637.1,1132.5 C625.7,1126.9 614.2,1121.2 603.2,1114.6 C592.2,1108.1 581.6,1100.8 571.2,1093.2 C560.8,1085.6 550.5,1077.8 540.9,1069.1 C531.3,1060.5 521.6,1051.6 513.6,1041.5 C505.6,1031.3 498.8,1020.0 493.0,1008.4 C487.3,996.9 483.8,983.9 479.1,972.0 C474.4,960.1 470.7,948.1 465.0,936.9 C459.2,925.6 451.6,915.4 444.4,904.4 C437.3,893.4 427.9,882.8 422.2,871.0 C416.6,859.1 411.8,846.3 410.5,833.4 C409.2,820.5 412.0,806.6 414.2,793.6 C416.4,780.5 421.7,767.7 423.8,755.0 C425.9,742.3 427.0,730.2 426.9,717.5 C426.8,704.9 423.8,691.9 423.2,678.9 C422.5,665.8 421.3,652.1 423.2,639.3 C425.2,626.5 429.5,613.9 434.7,602.0 C440.0,590.2 447.8,579.3 454.7,568.3 C461.7,557.4 469.2,547.0 476.4,536.4 C483.6,525.9 490.5,515.2 497.9,504.9 C505.3,494.6 512.9,484.5 520.8,474.6 C528.7,464.7 537.1,455.2 545.5,445.5 C553.8,435.7 561.9,425.7 570.8,416.3 C579.6,406.8 588.3,396.7 598.5,388.7 C608.7,380.7 619.9,373.5 631.8,368.4 C643.7,363.3 657.3,361.1 670.0,358.2 C682.7,355.3 695.8,354.7 708.1,351.3 C720.3,347.9 731.6,343.4 743.2,337.9 C754.9,332.4 766.0,323.9 778.0,318.4 C790.1,313.0 802.8,307.0 815.6,305.1 C828.5,303.3 842.1,304.9 855.0,307.5 C867.9,310.0 880.6,316.5 893.0,320.5 C905.5,324.5 917.3,329.0 929.7,331.5 C942.1,334.0 954.6,334.1 967.4,335.4 C980.2,336.7 993.7,336.6 1006.4,339.1 C1019.0,341.7 1031.7,345.5 1043.5,350.7 C1055.3,355.9 1066.3,363.2 1077.1,370.4 C1087.8,377.6 1098.0,385.7 1107.9,393.8 C1117.9,401.9 1127.6,410.3 1136.8,419.1 C1146.0,428.0 1154.6,437.4 1163.1,446.9 C1171.6,456.3 1179.3,466.3 1187.7,475.8 C1196.2,485.3 1205.0,494.3 1213.9,503.7 C1222.8,513.1 1233.1,521.8 1241.2,532.0 C1249.3,542.2 1257.5,553.1 1262.5,565.0 C1267.5,576.9 1269.8,590.4 1271.4,603.5 C1273.0,616.5 1271.3,630.4 1272.2,643.2 C1273.2,656.1 1274.0,668.3 1277.1,680.6 C1280.2,692.8 1286.4,704.5 1290.8,716.9 C1295.3,729.3 1301.7,742.1 1303.8,755.0Z" fill="#eab0a2" stroke="#dc9c8c" stroke-width="7"/><g clip-path="url(#tcC)"><ellipse cx="760" cy="660" rx="420" ry="370" fill="#f3cbc1"/><path d="M600,1060 C800,1000 1100,900 1250,600 C1350,700 1340,1000 1200,1150 C1000,1250 700,1250 600,1060 Z" fill="#e4a898"/></g><circle cx="800" cy="790" r="175" fill="#cc8e86"/><path d="M880,635 A175,175 0 0 1 700,935 C800,950 900,850 880,635 Z" fill="#b9665c"/><path d="M880,635 C920,700 940,850 820,940 C900,900 960,760 880,635 Z" fill="#c87468"/><ellipse cx="712" cy="715" rx="14" ry="26" fill="#f6e2de" transform="rotate(30 712 715)"/><circle cx="830" cy="535" r="32" fill="#cf7b70"/><circle cx="655" cy="590" r="18" fill="#cf7b70"/><circle cx="555" cy="605" r="20" fill="#cf7b70"/><circle cx="930" cy="610" r="18" fill="#cf7b70"/><circle cx="1035" cy="608" r="17" fill="#cf7b70"/><circle cx="1070" cy="745" r="32" fill="#cf7b70"/><circle cx="1155" cy="778" r="18" fill="#cf7b70"/><circle cx="555" cy="835" r="18" fill="#cf7b70"/><circle cx="625" cy="940" r="30" fill="#cf7b70"/><circle cx="765" cy="1010" r="30" fill="#cf7b70"/><circle cx="945" cy="1012" r="18" fill="#cf7b70"/><circle cx="1018" cy="1005" r="32" fill="#cf7b70"/></g>
<g transform="translate(3660 1110) scale(0.3203)">
<clipPath id="neuC"><path d="M740,60 C1100,60 1400,280 1470,650 C1530,1000 1450,1350 1150,1500 C900,1600 550,1560 330,1360 C120,1150 80,900 90,700 C100,400 400,60 740,60 Z"/></clipPath>
<clipPath id="nucC"><path d="M287.9,472.4 C290.0,440.7 292.1,404.7 306.9,377.2 C321.7,349.7 344.0,325.4 376.8,307.4 C409.6,289.4 461.4,279.3 503.7,269.3 C546.0,259.2 588.4,250.2 630.7,247.1 C673.0,243.9 723.8,246.0 757.6,250.2 C791.5,254.5 807.4,273.0 833.8,272.5 C860.3,271.9 886.7,248.7 916.3,247.1 C946.0,245.5 981.9,251.8 1011.6,262.9 C1041.2,274.0 1070.8,292.6 1094.1,313.7 C1117.4,334.9 1138.5,363.4 1151.2,389.9 C1163.9,416.3 1169.2,450.2 1170.3,472.4 C1171.3,494.6 1168.1,512.1 1157.6,523.2 C1147.0,534.3 1125.8,533.8 1106.8,539.1 C1087.7,544.4 1048.6,552.3 1043.3,554.9 C1038.0,557.6 1053.9,551.8 1075.0,554.9 C1096.2,558.1 1142.8,561.3 1170.3,574.0 C1197.8,586.7 1223.2,605.7 1240.1,631.1 C1257.0,656.5 1267.6,694.6 1271.8,726.3 C1276.1,758.1 1273.9,797.2 1265.5,821.6 C1257.0,845.9 1240.1,863.9 1221.0,872.3 C1202.0,880.8 1171.3,880.8 1151.2,872.3 C1131.1,863.9 1113.1,845.9 1100.4,821.6 C1087.7,797.2 1082.4,752.8 1075.0,726.3 C1067.6,699.9 1066.6,681.9 1056.0,662.9 C1045.4,643.8 1029.5,626.9 1011.6,612.1 C993.6,597.3 967.1,588.8 948.1,574.0 C929.0,559.2 908.9,542.2 897.3,523.2 C885.7,504.2 883.0,480.9 878.3,459.7 C873.5,438.6 875.1,416.3 868.7,396.2 C862.4,376.1 853.4,352.9 840.2,339.1 C826.9,325.4 811.6,315.8 789.4,313.7 C767.2,311.6 728.0,315.8 706.9,326.4 C685.7,337.0 670.9,352.9 662.4,377.2 C654.0,401.5 654.0,437.5 656.1,472.4 C658.2,507.3 678.3,556.0 675.1,586.7 C671.9,617.4 654.0,637.5 637.0,656.5 C620.1,675.6 586.2,684.0 573.5,700.9 C560.9,717.9 551.3,746.4 560.9,758.1 C570.4,769.7 606.3,762.3 630.7,770.8 C655.0,779.2 686.8,789.8 706.9,808.9 C727.0,827.9 742.8,856.5 751.3,885.0 C759.8,913.6 762.4,953.8 757.6,980.3 C752.9,1006.7 733.3,1022.6 722.7,1043.7 C712.1,1064.9 705.3,1086.1 694.2,1107.2 C683.1,1128.4 675.1,1153.8 656.1,1170.7 C637.0,1187.6 610.6,1201.9 579.9,1208.8 C549.2,1215.7 505.8,1218.3 472.0,1212.0 C438.1,1205.6 403.2,1188.2 376.8,1170.7 C350.3,1153.2 329.2,1133.7 313.3,1107.2 C297.4,1080.8 287.4,1048.0 281.5,1012.0 C275.7,976.0 274.1,922.1 278.4,891.4 C282.6,860.7 293.7,841.7 306.9,827.9 C320.2,814.2 358.8,817.3 357.7,808.9 C356.7,800.4 313.8,790.9 300.6,777.1 C287.4,763.4 277.3,743.3 278.4,726.3 C279.4,709.4 292.6,687.2 306.9,675.6 C321.2,663.9 360.9,663.9 364.1,656.5 C367.2,649.1 337.6,645.9 326.0,631.1 C314.3,616.3 300.6,594.1 294.2,567.6 C287.9,541.2 285.8,504.2 287.9,472.4Z"/></clipPath>
<path d="M740,60 C1100,60 1400,280 1470,650 C1530,1000 1450,1350 1150,1500 C900,1600 550,1560 330,1360 C120,1150 80,900 90,700 C100,400 400,60 740,60 Z" fill="#d0b7da"/>
<g clip-path="url(#neuC)">
<path d="M262,1158 C380,760 700,420 1165,250 L1300,-50 L-50,-50 L-50,1250 Z" fill="#dbc7e3"/>
<path d="M250,1230 C600,1200 1000,950 1380,480 L1700,300 L1700,1800 L-50,1800 L-50,1250 Z" fill="#b496c7"/>
<path d="M140,980 C110,700 260,330 600,130 C700,90 760,80 800,78 C600,150 330,400 250,700 C215,850 230,1000 262,1158 C200,1100 160,1050 140,980 Z" fill="#e2d1e8" opacity="0.8"/>
</g>
<path d="M740,60 C1100,60 1400,280 1470,650 C1530,1000 1450,1350 1150,1500 C900,1600 550,1560 330,1360 C120,1150 80,900 90,700 C100,400 400,60 740,60 Z" fill="none" stroke="#9a86b6" stroke-width="5"/>
<path d="M287.9,472.4 C290.0,440.7 292.1,404.7 306.9,377.2 C321.7,349.7 344.0,325.4 376.8,307.4 C409.6,289.4 461.4,279.3 503.7,269.3 C546.0,259.2 588.4,250.2 630.7,247.1 C673.0,243.9 723.8,246.0 757.6,250.2 C791.5,254.5 807.4,273.0 833.8,272.5 C860.3,271.9 886.7,248.7 916.3,247.1 C946.0,245.5 981.9,251.8 1011.6,262.9 C1041.2,274.0 1070.8,292.6 1094.1,313.7 C1117.4,334.9 1138.5,363.4 1151.2,389.9 C1163.9,416.3 1169.2,450.2 1170.3,472.4 C1171.3,494.6 1168.1,512.1 1157.6,523.2 C1147.0,534.3 1125.8,533.8 1106.8,539.1 C1087.7,544.4 1048.6,552.3 1043.3,554.9 C1038.0,557.6 1053.9,551.8 1075.0,554.9 C1096.2,558.1 1142.8,561.3 1170.3,574.0 C1197.8,586.7 1223.2,605.7 1240.1,631.1 C1257.0,656.5 1267.6,694.6 1271.8,726.3 C1276.1,758.1 1273.9,797.2 1265.5,821.6 C1257.0,845.9 1240.1,863.9 1221.0,872.3 C1202.0,880.8 1171.3,880.8 1151.2,872.3 C1131.1,863.9 1113.1,845.9 1100.4,821.6 C1087.7,797.2 1082.4,752.8 1075.0,726.3 C1067.6,699.9 1066.6,681.9 1056.0,662.9 C1045.4,643.8 1029.5,626.9 1011.6,612.1 C993.6,597.3 967.1,588.8 948.1,574.0 C929.0,559.2 908.9,542.2 897.3,523.2 C885.7,504.2 883.0,480.9 878.3,459.7 C873.5,438.6 875.1,416.3 868.7,396.2 C862.4,376.1 853.4,352.9 840.2,339.1 C826.9,325.4 811.6,315.8 789.4,313.7 C767.2,311.6 728.0,315.8 706.9,326.4 C685.7,337.0 670.9,352.9 662.4,377.2 C654.0,401.5 654.0,437.5 656.1,472.4 C658.2,507.3 678.3,556.0 675.1,586.7 C671.9,617.4 654.0,637.5 637.0,656.5 C620.1,675.6 586.2,684.0 573.5,700.9 C560.9,717.9 551.3,746.4 560.9,758.1 C570.4,769.7 606.3,762.3 630.7,770.8 C655.0,779.2 686.8,789.8 706.9,808.9 C727.0,827.9 742.8,856.5 751.3,885.0 C759.8,913.6 762.4,953.8 757.6,980.3 C752.9,1006.7 733.3,1022.6 722.7,1043.7 C712.1,1064.9 705.3,1086.1 694.2,1107.2 C683.1,1128.4 675.1,1153.8 656.1,1170.7 C637.0,1187.6 610.6,1201.9 579.9,1208.8 C549.2,1215.7 505.8,1218.3 472.0,1212.0 C438.1,1205.6 403.2,1188.2 376.8,1170.7 C350.3,1153.2 329.2,1133.7 313.3,1107.2 C297.4,1080.8 287.4,1048.0 281.5,1012.0 C275.7,976.0 274.1,922.1 278.4,891.4 C282.6,860.7 293.7,841.7 306.9,827.9 C320.2,814.2 358.8,817.3 357.7,808.9 C356.7,800.4 313.8,790.9 300.6,777.1 C287.4,763.4 277.3,743.3 278.4,726.3 C279.4,709.4 292.6,687.2 306.9,675.6 C321.2,663.9 360.9,663.9 364.1,656.5 C367.2,649.1 337.6,645.9 326.0,631.1 C314.3,616.3 300.6,594.1 294.2,567.6 C287.9,541.2 285.8,504.2 287.9,472.4Z" fill="#8d78bc" stroke="#8a76b6" stroke-width="4"/>
<g clip-path="url(#nucC)">
<path d="M230,1250 C380,760 700,420 1180,240 L1300,-50 L-50,-50 L-50,1250 Z" fill="#b3a6d2" opacity="0.75"/>
<path d="M330,1180 C420,1240 560,1230 640,1150 C620,1260 560,1340 450,1350 C360,1340 320,1260 330,1180 Z" fill="#7a62a8" opacity="0.8"/>
<path d="M1100,560 C1180,520 1260,500 1340,490 C1300,540 1240,560 1160,580 Z" fill="#7a62a8" opacity="0.7"/>
<path d="M1080,520 C1150,470 1230,380 1280,300 C1340,340 1360,420 1340,500 C1260,520 1160,550 1080,520 Z" fill="#7d66ab" opacity="0.7"/>
<path d="M1200,880 C1260,920 1330,900 1380,850 C1400,760 1380,680 1340,640 C1370,740 1330,850 1200,880 Z" fill="#7a62a8" opacity="0.75"/>
<path d="M560,1000 C630,980 680,900 690,820 C740,880 740,980 700,1030 C660,1040 600,1030 560,1000 Z" fill="#7a62a8" opacity="0.6"/>
</g>
<path d="M452.9,656.5 C457.2,640.6 486.8,642.8 497.4,650.2 C508.0,657.6 509.5,677.7 516.4,700.9 C523.3,724.2 530.2,753.8 538.6,789.8 C547.1,825.8 557.1,874.5 567.2,916.8 C577.3,959.1 589.9,1009.9 598.9,1043.7 C607.9,1077.6 620.1,1108.3 621.2,1119.9 C622.2,1131.6 615.3,1136.8 605.3,1113.6 C595.2,1090.3 575.7,1023.6 560.9,980.3 C546.0,936.9 531.2,892.4 516.4,853.3 C501.6,814.2 482.6,778.2 472.0,745.4 C461.4,712.6 448.7,672.4 452.9,656.5Z" fill="#cdb6da"/>
<path d="M660,400 C680,330 740,300 800,300 C860,300 890,340 880,380 C860,360 820,340 770,340 C720,345 680,370 660,400 Z" fill="#dccbe3" opacity="0.9"/>
<ellipse cx="390" cy="350" rx="12" ry="38" transform="rotate(50 390 350)" fill="#ece2f0"/>
<g fill="#9378b3">
<circle cx="850" cy="760" r="10"/><circle cx="960" cy="845" r="22"/><circle cx="1155" cy="935" r="12"/><circle cx="1035" cy="970" r="12"/><circle cx="890" cy="1025" r="12"/><circle cx="1315" cy="1000" r="18"/><circle cx="1185" cy="1150" r="9"/><circle cx="805" cy="1205" r="10"/><circle cx="425" cy="1300" r="18"/><circle cx="930" cy="1315" r="18"/>
</g>
</g>

<text class="t" x="123.4" y="202">Parkinson's disease</text>
<text class="t" x="1275.2" y="207.4">MSCs</text>
<text class="t" x="2420.4" y="214">IPSCs</text>
<text class="t" x="3733.9" y="208">ESCs</text>
<text class="b" x="1154.3" y="1308">Low Risk</text>
<text class="b" x="2609.3" y="1031.5">High Risk</text>
<text class="b" x="3266.6" y="1025">High Risk</text>
<text class="b" x="118.3" y="1725">Limatation</text>
<text class="b" x="2234" y="1741.6">• Tumor formation</text>
<text class="b" x="3588.4" y="1745.4">• Immune rejection</text>
<text class="b" x="101.1" y="2260.6">Advantages</text>
<text class="b" x="757.6" y="2004.8">• Reduce the accumulation of</text>
<text class="b" x="846.2" y="2123">polyubiquitinated proteins</text>
<text class="b" x="757.6" y="2243.8">• Neuroprotection</text>
<text class="b" x="757.6" y="2362">• No ethical problems</text>
<text class="b" x="757.6" y="2480">• Easy isolation methods</text>
<text class="b" x="757.6" y="2598.4">• Low risk of immune rejection</text>
<text class="b" x="2143.3" y="2001">• Replacing degenerated</text>
<text class="b" x="2234" y="2118.6">dopamine cells</text>
<text class="b" x="2143.3" y="2236.2">• No ethical problems</text>
<text class="b" x="2143.3" y="2353.8">• Low risk of immune rejection</text>
<text class="b" x="2143.3" y="2471.4">• High accessibility</text>
<text class="b" x="3525.2" y="2008.2">•Proliferation capacity</text>
<text class="b" x="3525.2" y="2125.8">•Neuronal replacement</text>
<text class="b" x="3429.7" y="2790.9">Superior options</text>
<text class="b" x="43.3" y="3139.6">Mesenchymal Stem Cells</text>
<text class="b" x="1041.7" y="3140.7">Induced Pluripotent Stem Cells</text>
<text class="b" x="2277.9" y="3133.9">Embryonic Stem Cells</text>


<g fill="none" stroke="#000" stroke-width="10" stroke-linecap="butt">
<path d="M1434.0,919.7 C1440.3,1136.2 1554.9,1334.1 1733.9,1434.9 C1854.9,1503.1 1957.1,1530.0 2145,1504.2"/>
<path d="M2829.6,683.4 C2970.3,763.8 3040.2,904.0 3048.6,1050.6 C3054.5,1155.1 3005.3,1290.6 2944,1344.5"/>
<path d="M3791.5,689.1 C3782.5,860.8 3709.1,1029.1 3587.5,1156.0 C3466.5,1282.3 3344.3,1372.1 3112,1409"/>
<path d="M4059.7,582.2 C4185.4,661.4 4267.9,789.0 4270.8,934.8 C4272.7,1034.9 4236.9,1162.9 4156,1229.5"/>
<path d="M1939.8,2492.9 C2136.6,2618.5 2366.3,2687.5 2600.6,2731.4 C2827.9,2774.1 3006.3,2802.7 3290,2778.8"/>
<path d="M3144.2,2185.9 C3529.5,2136.7 3686.0,2374.1 3701.7,2625"/>
</g>
<g fill="#000">
<path d="M2213.0,1492.6 Q2166.3,1478.0 2125.4,1456.8 L2140.5,1507.3 L2122.0,1560.3 Q2164.8,1524.5 2213.0,1492.6 Z"/>
<path d="M2909.1,1384.9 Q2916.7,1350.4 2918.3,1317.2 L2943.8,1344.9 L2986.0,1352.7 Q2947.2,1366.4 2909.1,1384.9 Z"/>
<path d="M3046.8,1414.1 Q3091.2,1388.6 3130.2,1358.8 L3115.9,1408.3 L3132.2,1453.1 Q3092.1,1431.1 3046.8,1414.1 Z"/>
<path d="M4124.1,1265.9 Q4132.4,1232.7 4134.9,1200.5 L4158.8,1227.7 L4202.0,1236.0 Q4162.6,1248.6 4124.1,1265.9 Z"/>
<path d="M3369.8,2770.0 Q3300.4,2763.7 3233.9,2753.9 L3286.9,2779.0 L3313.7,2810.0 Q3336.3,2788.9 3369.8,2770.0 Z"/>
<path d="M3701.9,2674.9 Q3683.4,2643.1 3661.2,2616.3 L3700.2,2620.7 L3739.8,2593.9 Q3718.8,2633.0 3701.9,2674.9 Z"/>
</g>

</svg></body></html>
